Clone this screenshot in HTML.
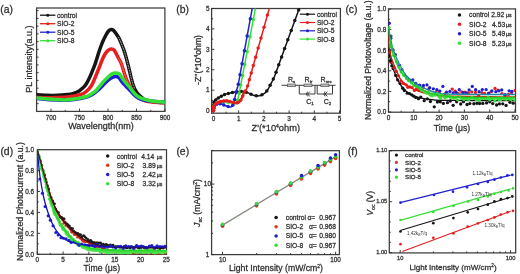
<!DOCTYPE html><html><head><meta charset="utf-8"><style>html,body{margin:0;padding:0;background:#fff;width:520px;height:274px;overflow:hidden}svg{display:block;filter:blur(0.5px)}text{font-family:"Liberation Sans", sans-serif;stroke:#333;stroke-width:0.26px}</style></head><body>
<svg xmlns="http://www.w3.org/2000/svg" width="520" height="274" viewBox="0 0 520 274">
<rect width="520" height="274" fill="#fff"/>
<defs>
<clipPath id="ca"><rect x="36.6" y="8" width="128.3" height="103.4"/></clipPath>
<clipPath id="cb"><rect x="211.6" y="8.5" width="128.8" height="104.7"/></clipPath>
<clipPath id="cc"><rect x="388.5" y="8.9" width="127" height="103.3"/></clipPath>
<clipPath id="cd"><rect x="37.3" y="149.7" width="129.2" height="104.6"/></clipPath>
<clipPath id="ce"><rect x="211.6" y="150.7" width="127.8" height="103.9"/></clipPath>
<clipPath id="cf"><rect x="389.3" y="150.6" width="126.4" height="102.3"/></clipPath>
</defs>
<text x="0.3" y="13" font-size="10.4" text-anchor="start" fill="#2a2a2a" >(a)</text>
<rect x="36.6" y="8" width="128.3" height="103.4" fill="none" stroke="#3c3c3c" stroke-width="1.25"/>
<line x1="51" y1="111.4" x2="51" y2="108.6" stroke="#2a2a2a" stroke-width="0.9"/>
<line x1="79.5" y1="111.4" x2="79.5" y2="108.6" stroke="#2a2a2a" stroke-width="0.9"/>
<line x1="108" y1="111.4" x2="108" y2="108.6" stroke="#2a2a2a" stroke-width="0.9"/>
<line x1="136.5" y1="111.4" x2="136.5" y2="108.6" stroke="#2a2a2a" stroke-width="0.9"/>
<line x1="165" y1="111.4" x2="165" y2="108.6" stroke="#2a2a2a" stroke-width="0.9"/>
<line x1="65.25" y1="111.4" x2="65.25" y2="109.9" stroke="#2a2a2a" stroke-width="0.9"/>
<line x1="93.75" y1="111.4" x2="93.75" y2="109.9" stroke="#2a2a2a" stroke-width="0.9"/>
<line x1="122.25" y1="111.4" x2="122.25" y2="109.9" stroke="#2a2a2a" stroke-width="0.9"/>
<line x1="150.75" y1="111.4" x2="150.75" y2="109.9" stroke="#2a2a2a" stroke-width="0.9"/>
<line x1="36.6" y1="103.65" x2="38.6" y2="103.65" stroke="#2a2a2a" stroke-width="0.9"/>
<line x1="36.6" y1="95.9" x2="38.6" y2="95.9" stroke="#2a2a2a" stroke-width="0.9"/>
<line x1="36.6" y1="88.15" x2="38.6" y2="88.15" stroke="#2a2a2a" stroke-width="0.9"/>
<line x1="36.6" y1="80.4" x2="38.6" y2="80.4" stroke="#2a2a2a" stroke-width="0.9"/>
<line x1="36.6" y1="72.65" x2="38.6" y2="72.65" stroke="#2a2a2a" stroke-width="0.9"/>
<line x1="36.6" y1="64.9" x2="38.6" y2="64.9" stroke="#2a2a2a" stroke-width="0.9"/>
<line x1="36.6" y1="57.15" x2="38.6" y2="57.15" stroke="#2a2a2a" stroke-width="0.9"/>
<line x1="36.6" y1="49.4" x2="38.6" y2="49.4" stroke="#2a2a2a" stroke-width="0.9"/>
<line x1="36.6" y1="41.65" x2="38.6" y2="41.65" stroke="#2a2a2a" stroke-width="0.9"/>
<line x1="36.6" y1="33.9" x2="38.6" y2="33.9" stroke="#2a2a2a" stroke-width="0.9"/>
<line x1="36.6" y1="26.15" x2="38.6" y2="26.15" stroke="#2a2a2a" stroke-width="0.9"/>
<line x1="36.6" y1="18.4" x2="38.6" y2="18.4" stroke="#2a2a2a" stroke-width="0.9"/>
<line x1="36.6" y1="10.65" x2="38.6" y2="10.65" stroke="#2a2a2a" stroke-width="0.9"/>
<text x="51" y="119.6" font-size="6.4" text-anchor="middle" fill="#2a2a2a" >700</text>
<text x="79.5" y="119.6" font-size="6.4" text-anchor="middle" fill="#2a2a2a" >750</text>
<text x="108" y="119.6" font-size="6.4" text-anchor="middle" fill="#2a2a2a" >800</text>
<text x="136.5" y="119.6" font-size="6.4" text-anchor="middle" fill="#2a2a2a" >850</text>
<text x="165" y="119.6" font-size="6.4" text-anchor="middle" fill="#2a2a2a" >900</text>
<text x="101" y="129.2" font-size="9" text-anchor="middle" fill="#2a2a2a" >Wavelength(nm)</text>
<text x="0" y="0" font-size="9" text-anchor="middle" fill="#222" transform="translate(31.8,59.2) rotate(-90)">PL intensity(a.u.)</text>
<g clip-path="url(#ca)">
<path d="M36,94.8C37.5,94.87 42.17,95.1 45,95.2C47.83,95.3 50.17,95.42 53,95.4C55.83,95.38 59.5,95.25 62,95.1C64.5,94.95 66.33,94.7 68,94.5C69.67,94.3 70.83,94.15 72,93.9C73.17,93.65 73.88,93.43 75,93C76.12,92.57 77.62,91.97 78.7,91.3C79.78,90.63 80.55,89.83 81.5,89C82.45,88.17 83.52,87.3 84.4,86.3C85.28,85.3 86.03,84.25 86.8,83C87.57,81.75 88.22,80.45 89,78.8C89.78,77.15 90.53,75.42 91.5,73.1C92.47,70.78 93.98,67.08 94.8,64.9C95.62,62.72 95.72,62.15 96.4,60C97.08,57.85 98.13,54.33 98.9,52C99.67,49.67 100.32,47.83 101,46C101.68,44.17 102.17,42.83 103,41C103.83,39.17 105.08,36.67 106,35C106.92,33.33 107.67,31.92 108.5,31C109.33,30.08 110.17,29.62 111,29.5C111.83,29.38 112.67,29.63 113.5,30.3C114.33,30.97 115.18,32.35 116,33.5C116.82,34.65 117.65,35.87 118.4,37.2C119.15,38.53 119.82,39.95 120.5,41.5C121.18,43.05 121.9,44.98 122.5,46.5C123.1,48.02 123.52,48.85 124.1,50.6C124.68,52.35 125.4,54.85 126,57C126.6,59.15 127.15,61.33 127.7,63.5C128.25,65.67 128.78,67.87 129.3,70C129.82,72.13 130.27,74.13 130.8,76.3C131.33,78.47 131.9,81 132.5,83C133.1,85 133.73,86.8 134.4,88.3C135.07,89.8 135.73,90.88 136.5,92C137.27,93.12 138.08,94.07 139,95C139.92,95.93 140.98,96.82 142,97.6C143.02,98.38 143.43,99.05 145.1,99.7C146.77,100.35 149.85,101.07 152,101.5C154.15,101.93 155.83,102.12 158,102.3C160.17,102.48 163.83,102.55 165,102.6" fill="none" stroke="#151515" stroke-width="3.5" stroke-linejoin="round" stroke-linecap="round" />
<path d="M118.4,37.2C118.75,37.92 119.82,39.95 120.5,41.5C121.18,43.05 121.9,44.98 122.5,46.5C123.1,48.02 123.52,48.85 124.1,50.6C124.68,52.35 125.4,54.85 126,57C126.6,59.15 127.15,61.33 127.7,63.5C128.25,65.67 128.78,67.87 129.3,70C129.82,72.13 130.27,74.13 130.8,76.3C131.33,78.47 131.9,81 132.5,83C133.1,85 134.08,87.42 134.4,88.3" fill="none" stroke="#ffffff" stroke-width="0.9" stroke-linejoin="round" stroke-linecap="round" stroke-dasharray="0.9 1.6" opacity="0.75"/>
<path d="M36,97.3C38.33,97.37 45.17,97.7 50,97.7C54.83,97.7 61.57,97.48 65,97.3C68.43,97.12 68.77,96.88 70.6,96.6C72.43,96.32 74.08,96 76,95.6C77.92,95.2 80.43,94.87 82.1,94.2C83.77,93.53 84.85,92.5 86,91.6C87.15,90.7 88.08,89.82 89,88.8C89.92,87.78 90.75,86.72 91.5,85.5C92.25,84.28 92.42,84 93.5,81.5C94.58,79 96.57,74.08 98,70.5C99.43,66.92 101.02,62.58 102.1,60C103.18,57.42 103.68,56.42 104.5,55C105.32,53.58 106.17,52.42 107,51.5C107.83,50.58 108.75,49.92 109.5,49.5C110.25,49.08 110.75,48.92 111.5,49C112.25,49.08 113.25,49.28 114,50C114.75,50.72 115.25,51.92 116,53.3C116.75,54.68 117.78,56.93 118.5,58.3C119.22,59.67 119.75,60.38 120.3,61.5C120.85,62.62 121.23,63.38 121.8,65C122.37,66.62 122.95,68.9 123.7,71.2C124.45,73.5 125.55,76.83 126.3,78.8C127.05,80.77 127.58,81.72 128.2,83C128.82,84.28 129.2,85.12 130,86.5C130.8,87.88 131.92,89.78 133,91.3C134.08,92.82 135.33,94.38 136.5,95.6C137.67,96.82 138.57,97.73 140,98.6C141.43,99.47 143.1,100.23 145.1,100.8C147.1,101.37 148.68,101.67 152,102C155.32,102.33 162.83,102.67 165,102.8" fill="none" stroke="#e51f1f" stroke-width="3.5" stroke-linejoin="round" stroke-linecap="round" />
<path d="M118.5,58.3C118.8,58.83 119.75,60.38 120.3,61.5C120.85,62.62 121.23,63.38 121.8,65C122.37,66.62 122.95,68.9 123.7,71.2C124.45,73.5 125.55,76.83 126.3,78.8C127.05,80.77 127.88,82.3 128.2,83" fill="none" stroke="#ffd0d0" stroke-width="0.8" stroke-linejoin="round" stroke-linecap="round" stroke-dasharray="0.9 1.6" opacity="0.6"/>
<path d="M36,98.2C37.5,98.38 41.83,99 45,99.3C48.17,99.6 51.67,99.83 55,100C58.33,100.17 61.5,100.42 65,100.3C68.5,100.18 73.17,99.65 76,99.3C78.83,98.95 80.02,98.65 82,98.2C83.98,97.75 86.05,97.3 87.9,96.6C89.75,95.9 91.42,95.07 93.1,94C94.78,92.93 96.35,91.65 98,90.2C99.65,88.75 101.35,86.92 103,85.3C104.65,83.68 106.27,81.85 107.9,80.5C109.53,79.15 111.45,77.88 112.8,77.2C114.15,76.52 114.97,76.3 116,76.4C117.03,76.5 117.97,76.83 119,77.8C120.03,78.77 121.08,80.83 122.2,82.2C123.32,83.57 124.53,84.78 125.7,86C126.87,87.22 128.05,88.28 129.2,89.5C130.35,90.72 131.43,92.13 132.6,93.3C133.77,94.47 134.97,95.58 136.2,96.5C137.43,97.42 138.6,98.18 140,98.8C141.4,99.42 142.6,99.78 144.6,100.2C146.6,100.62 148.6,101 152,101.3C155.4,101.6 162.83,101.88 165,102" fill="none" stroke="#2020d0" stroke-width="3.5" stroke-linejoin="round" stroke-linecap="round" />
<path d="M36,97.7C37.5,97.88 42.12,98.52 45,98.8C47.88,99.08 50,99.2 53.3,99.4C56.6,99.6 60.95,100.1 64.8,100C68.65,99.9 73.53,99.2 76.4,98.8C79.27,98.4 80.08,98.07 82,97.6C83.92,97.13 86.05,96.8 87.9,96C89.75,95.2 91.75,93.7 93.1,92.8C94.45,91.9 95.18,91.37 96,90.6C96.82,89.83 96.83,89.62 98,88.2C99.17,86.78 101.35,83.93 103,82.1C104.65,80.27 106.4,78.57 107.9,77.2C109.4,75.83 110.78,74.58 112,73.9C113.22,73.22 113.98,73.1 115.2,73.1C116.42,73.1 118.13,73.08 119.3,73.9C120.47,74.72 121.17,76.57 122.2,78C123.23,79.43 124.33,81.05 125.5,82.5C126.67,83.95 128.03,85.25 129.2,86.7C130.37,88.15 131.33,89.8 132.5,91.2C133.67,92.6 134.95,94.03 136.2,95.1C137.45,96.17 138.6,96.9 140,97.6C141.4,98.3 142.93,98.78 144.6,99.3C146.27,99.82 148.1,100.32 150,100.7C151.9,101.08 153.5,101.35 156,101.6C158.5,101.85 163.5,102.1 165,102.2" fill="none" stroke="#35e035" stroke-width="3.5" stroke-linejoin="round" stroke-linecap="round" />
</g>
<line x1="40" y1="15.2" x2="55.4" y2="15.2" stroke="#151515" stroke-width="1.3"/>
<circle cx="47.8" cy="15.2" r="1.5" fill="#151515"/>
<text x="57" y="17.6" font-size="6.7" text-anchor="start" fill="#2a2a2a" >control</text>
<line x1="40" y1="23.7" x2="55.4" y2="23.7" stroke="#e51f1f" stroke-width="1.3"/>
<circle cx="47.8" cy="23.7" r="1.5" fill="#e51f1f"/>
<text x="57" y="26.1" font-size="6.7" text-anchor="start" fill="#2a2a2a" >SIO-2</text>
<line x1="40" y1="32.2" x2="55.4" y2="32.2" stroke="#2020d0" stroke-width="1.3"/>
<circle cx="47.8" cy="32.2" r="1.5" fill="#2020d0"/>
<text x="57" y="34.6" font-size="6.7" text-anchor="start" fill="#2a2a2a" >SIO-5</text>
<line x1="40" y1="40.7" x2="55.4" y2="40.7" stroke="#35e035" stroke-width="1.3"/>
<circle cx="47.8" cy="40.7" r="1.5" fill="#35e035"/>
<text x="57" y="43.1" font-size="6.7" text-anchor="start" fill="#2a2a2a" >SIO-8</text>
<text x="176.2" y="13" font-size="10.4" text-anchor="start" fill="#2a2a2a" >(b)</text>
<rect x="211.6" y="8.5" width="128.8" height="104.7" fill="none" stroke="#3c3c3c" stroke-width="1.25"/>
<line x1="213.5" y1="113.2" x2="213.5" y2="110.4" stroke="#2a2a2a" stroke-width="0.9"/>
<line x1="238.7" y1="113.2" x2="238.7" y2="110.4" stroke="#2a2a2a" stroke-width="0.9"/>
<line x1="263.9" y1="113.2" x2="263.9" y2="110.4" stroke="#2a2a2a" stroke-width="0.9"/>
<line x1="289.1" y1="113.2" x2="289.1" y2="110.4" stroke="#2a2a2a" stroke-width="0.9"/>
<line x1="314.3" y1="113.2" x2="314.3" y2="110.4" stroke="#2a2a2a" stroke-width="0.9"/>
<line x1="339.5" y1="113.2" x2="339.5" y2="110.4" stroke="#2a2a2a" stroke-width="0.9"/>
<line x1="226.1" y1="113.2" x2="226.1" y2="111.7" stroke="#2a2a2a" stroke-width="0.9"/>
<line x1="251.3" y1="113.2" x2="251.3" y2="111.7" stroke="#2a2a2a" stroke-width="0.9"/>
<line x1="276.5" y1="113.2" x2="276.5" y2="111.7" stroke="#2a2a2a" stroke-width="0.9"/>
<line x1="301.7" y1="113.2" x2="301.7" y2="111.7" stroke="#2a2a2a" stroke-width="0.9"/>
<line x1="326.9" y1="113.2" x2="326.9" y2="111.7" stroke="#2a2a2a" stroke-width="0.9"/>
<line x1="211.6" y1="90.18" x2="214.4" y2="90.18" stroke="#2a2a2a" stroke-width="0.9"/>
<line x1="211.6" y1="69.76" x2="214.4" y2="69.76" stroke="#2a2a2a" stroke-width="0.9"/>
<line x1="211.6" y1="49.34" x2="214.4" y2="49.34" stroke="#2a2a2a" stroke-width="0.9"/>
<line x1="211.6" y1="28.92" x2="214.4" y2="28.92" stroke="#2a2a2a" stroke-width="0.9"/>
<line x1="211.6" y1="8.5" x2="214.4" y2="8.5" stroke="#2a2a2a" stroke-width="0.9"/>
<line x1="211.6" y1="110.6" x2="214.4" y2="110.6" stroke="#2a2a2a" stroke-width="0.9"/>
<line x1="211.6" y1="100.39" x2="213.1" y2="100.39" stroke="#2a2a2a" stroke-width="0.9"/>
<line x1="211.6" y1="79.97" x2="213.1" y2="79.97" stroke="#2a2a2a" stroke-width="0.9"/>
<line x1="211.6" y1="59.55" x2="213.1" y2="59.55" stroke="#2a2a2a" stroke-width="0.9"/>
<line x1="211.6" y1="39.13" x2="213.1" y2="39.13" stroke="#2a2a2a" stroke-width="0.9"/>
<line x1="211.6" y1="18.71" x2="213.1" y2="18.71" stroke="#2a2a2a" stroke-width="0.9"/>
<text x="213.5" y="120.6" font-size="6.4" text-anchor="middle" fill="#2a2a2a" >0</text>
<text x="207.8" y="112.9" font-size="6.4" text-anchor="middle" fill="#2a2a2a" >0</text>
<text x="238.7" y="120.6" font-size="6.4" text-anchor="middle" fill="#2a2a2a" >1</text>
<text x="207.8" y="92.48" font-size="6.4" text-anchor="middle" fill="#2a2a2a" >1</text>
<text x="263.9" y="120.6" font-size="6.4" text-anchor="middle" fill="#2a2a2a" >2</text>
<text x="207.8" y="72.06" font-size="6.4" text-anchor="middle" fill="#2a2a2a" >2</text>
<text x="289.1" y="120.6" font-size="6.4" text-anchor="middle" fill="#2a2a2a" >3</text>
<text x="207.8" y="51.64" font-size="6.4" text-anchor="middle" fill="#2a2a2a" >3</text>
<text x="314.3" y="120.6" font-size="6.4" text-anchor="middle" fill="#2a2a2a" >4</text>
<text x="207.8" y="31.22" font-size="6.4" text-anchor="middle" fill="#2a2a2a" >4</text>
<text x="339.5" y="120.6" font-size="6.4" text-anchor="middle" fill="#2a2a2a" >5</text>
<text x="207.8" y="10.8" font-size="6.4" text-anchor="middle" fill="#2a2a2a" >5</text>
<text x="275.8" y="131.2" font-size="9.3" text-anchor="middle" fill="#2a2a2a" >Z'(*10<tspan font-size="5" dy="-3">4</tspan><tspan dy="3">ohm)</tspan></text>
<text x="0" y="0" font-size="8.7" text-anchor="middle" fill="#222" transform="translate(200.5,60) rotate(-90)">-Z''(*10<tspan font-size="5" dy="-3">4</tspan><tspan dy="3">ohm)</tspan></text>
<g clip-path="url(#cb)">
<path d="M213.3,111.5C213.33,110.58 213.38,107.68 213.5,106C213.62,104.32 213.5,102.53 214,101.4C214.5,100.27 215.63,99.88 216.5,99.2C217.37,98.52 218.33,97.83 219.2,97.3C220.07,96.77 220.85,96.43 221.7,96C222.55,95.57 223.45,95.05 224.3,94.7C225.15,94.35 225.95,94.15 226.8,93.9C227.65,93.65 228.28,93.48 229.4,93.2C230.52,92.92 232.32,92.43 233.5,92.2C234.68,91.97 235.48,91.9 236.5,91.8C237.52,91.7 238.4,91.63 239.6,91.6C240.8,91.57 242.33,91.42 243.7,91.6C245.07,91.78 246.58,92.27 247.8,92.7C249.02,93.13 250.05,93.77 251,94.2C251.95,94.63 252.58,95.02 253.5,95.3C254.42,95.58 255.58,95.82 256.5,95.9C257.42,95.98 258.22,95.92 259,95.8C259.78,95.68 260.37,95.55 261.2,95.2C262.03,94.85 263.2,94.23 264,93.7C264.8,93.17 265.25,92.87 266,92C266.75,91.13 267.72,89.82 268.5,88.5C269.28,87.18 269.77,85.93 270.7,84.1C271.63,82.27 273.03,79.98 274.1,77.5C275.17,75.02 276,72.28 277.12,69.2C278.25,66.12 279.45,62.82 280.84,59C282.23,55.18 284.12,49.97 285.46,46.3C286.79,42.63 287.78,39.93 288.84,37C289.91,34.07 290.68,31.95 291.87,28.7C293.05,25.45 294.69,20.95 295.94,17.5C297.2,14.05 298.52,10.42 299.4,8C300.28,5.58 300.92,3.83 301.22,3" fill="none" stroke="#151515" stroke-width="1.5" stroke-linejoin="round" stroke-linecap="round" />
<circle cx="213.34" cy="110.5" r="1.75" fill="#151515"/>
<circle cx="213.43" cy="107.9" r="1.75" fill="#151515"/>
<circle cx="213.59" cy="105.15" r="1.75" fill="#151515"/>
<circle cx="213.91" cy="102.25" r="1.75" fill="#151515"/>
<circle cx="215.68" cy="99.92" r="1.75" fill="#151515"/>
<circle cx="218.3" cy="97.94" r="1.75" fill="#151515"/>
<circle cx="221.31" cy="96.21" r="1.75" fill="#151515"/>
<circle cx="224.62" cy="94.6" r="1.75" fill="#151515"/>
<circle cx="228.37" cy="93.48" r="1.75" fill="#151515"/>
<circle cx="232.39" cy="92.47" r="1.75" fill="#151515"/>
<circle cx="236.72" cy="91.79" r="1.75" fill="#151515"/>
<circle cx="241.37" cy="91.6" r="1.75" fill="#151515"/>
<circle cx="246.22" cy="92.27" r="1.75" fill="#151515"/>
<circle cx="251.05" cy="94.22" r="1.75" fill="#151515"/>
<circle cx="256.32" cy="95.86" r="1.75" fill="#151515"/>
<circle cx="262" cy="94.77" r="1.75" fill="#151515"/>
<circle cx="266.78" cy="90.91" r="1.75" fill="#151515"/>
<circle cx="270.13" cy="85.24" r="1.75" fill="#151515"/>
<circle cx="273.32" cy="79.01" r="1.75" fill="#151515"/>
<circle cx="276.06" cy="72.13" r="1.75" fill="#151515"/>
<circle cx="278.75" cy="64.73" r="1.75" fill="#151515"/>
<circle cx="281.6" cy="56.9" r="1.75" fill="#151515"/>
<circle cx="284.62" cy="48.59" r="1.75" fill="#151515"/>
<circle cx="287.83" cy="39.79" r="1.75" fill="#151515"/>
<circle cx="291.23" cy="30.46" r="1.75" fill="#151515"/>
<circle cx="294.83" cy="20.56" r="1.75" fill="#151515"/>
<circle cx="298.64" cy="10.08" r="1.75" fill="#151515"/>
<path d="M213.3,111.5C213.42,110.55 213.63,107 214,105.8C214.37,104.6 214.83,104.73 215.5,104.3C216.17,103.87 217.05,103.53 218,103.2C218.95,102.87 219.82,102.5 221.2,102.3C222.58,102.1 224.77,101.92 226.3,102C227.83,102.08 229.2,102.53 230.4,102.8C231.6,103.07 232.65,103.47 233.5,103.6C234.35,103.73 234.95,103.9 235.5,103.6C236.05,103.3 236.38,102.65 236.8,101.8C237.22,100.95 237.6,99.97 238,98.5C238.4,97.03 238.75,95.25 239.2,93C239.65,90.75 239.98,88.83 240.72,85C241.45,81.17 242.48,75.83 243.6,70C244.72,64.17 246.16,56.67 247.44,50C248.72,43.33 249.93,37 251.28,30C252.62,23 254.64,12.5 255.5,8C256.36,3.5 256.3,3.83 256.46,3" fill="none" stroke="#35e035" stroke-width="1.5" stroke-linejoin="round" stroke-linecap="round" />
<circle cx="213.42" cy="110.51" r="1.75" fill="#35e035"/>
<circle cx="213.69" cy="108.32" r="1.75" fill="#35e035"/>
<circle cx="214.01" cy="105.79" r="1.75" fill="#35e035"/>
<circle cx="216.28" cy="103.96" r="1.75" fill="#35e035"/>
<circle cx="219.49" cy="102.78" r="1.75" fill="#35e035"/>
<circle cx="223.41" cy="102.17" r="1.75" fill="#35e035"/>
<circle cx="227.99" cy="102.33" r="1.75" fill="#35e035"/>
<circle cx="233.21" cy="103.53" r="1.75" fill="#35e035"/>
<circle cx="237.38" cy="100.2" r="1.75" fill="#35e035"/>
<circle cx="239.15" cy="93.22" r="1.75" fill="#35e035"/>
<circle cx="240.72" cy="85" r="1.75" fill="#35e035"/>
<circle cx="242.55" cy="75.47" r="1.75" fill="#35e035"/>
<circle cx="244.67" cy="64.42" r="1.75" fill="#35e035"/>
<circle cx="247.13" cy="51.59" r="1.75" fill="#35e035"/>
<circle cx="249.99" cy="36.71" r="1.75" fill="#35e035"/>
<circle cx="253.3" cy="19.46" r="1.75" fill="#35e035"/>
<path d="M213.3,111.5C213.42,110.67 213.63,107.67 214,106.5C214.37,105.33 214.83,104.95 215.5,104.5C216.17,104.05 217.05,103.9 218,103.8C218.95,103.7 220.2,103.7 221.2,103.9C222.2,104.1 223.15,104.65 224,105C224.85,105.35 225.55,105.72 226.3,106C227.05,106.28 227.82,106.53 228.5,106.7C229.18,106.87 229.73,107.12 230.4,107C231.07,106.88 231.9,106.77 232.5,106C233.1,105.23 233.58,103.85 234,102.4C234.42,100.95 234.57,99.35 235,97.3C235.43,95.25 236.08,92.15 236.6,90.1C237.12,88.05 237.42,88.35 238.13,85C238.85,81.65 239.82,75.83 240.89,70C241.97,64.17 243.35,56.67 244.57,50C245.8,43.33 246.96,37 248.25,30C249.54,23 251.47,12.5 252.3,8C253.13,3.5 253.07,3.83 253.22,3" fill="none" stroke="#2020d0" stroke-width="1.5" stroke-linejoin="round" stroke-linecap="round" />
<circle cx="213.44" cy="110.51" r="1.75" fill="#2020d0"/>
<circle cx="213.74" cy="108.33" r="1.75" fill="#2020d0"/>
<circle cx="214.42" cy="105.94" r="1.75" fill="#2020d0"/>
<circle cx="216.62" cy="104.19" r="1.75" fill="#2020d0"/>
<circle cx="220" cy="103.86" r="1.75" fill="#2020d0"/>
<circle cx="223.79" cy="104.92" r="1.75" fill="#2020d0"/>
<circle cx="228.1" cy="106.57" r="1.75" fill="#2020d0"/>
<circle cx="232.77" cy="105.36" r="1.75" fill="#2020d0"/>
<circle cx="234.58" cy="99.45" r="1.75" fill="#2020d0"/>
<circle cx="236.09" cy="92.4" r="1.75" fill="#2020d0"/>
<circle cx="238.26" cy="84.32" r="1.75" fill="#2020d0"/>
<circle cx="240.01" cy="74.78" r="1.75" fill="#2020d0"/>
<circle cx="242.05" cy="63.71" r="1.75" fill="#2020d0"/>
<circle cx="244.41" cy="50.86" r="1.75" fill="#2020d0"/>
<circle cx="247.15" cy="35.96" r="1.75" fill="#2020d0"/>
<circle cx="250.33" cy="18.68" r="1.75" fill="#2020d0"/>
<path d="M213.3,111.5C213.35,110.92 213.48,109.02 213.6,108C213.72,106.98 213.72,106.07 214,105.4C214.28,104.73 214.78,104.42 215.3,104C215.82,103.58 216.48,103.23 217.1,102.9C217.72,102.57 218.32,102.25 219,102C219.68,101.75 220.45,101.57 221.2,101.4C221.95,101.23 222.65,101.1 223.5,101C224.35,100.9 225.38,100.77 226.3,100.8C227.22,100.83 228.15,101.02 229,101.2C229.85,101.38 230.65,101.68 231.4,101.9C232.15,102.12 232.82,102.33 233.5,102.5C234.18,102.67 234.88,102.83 235.5,102.9C236.12,102.97 236.68,102.98 237.2,102.9C237.72,102.82 238.08,102.75 238.6,102.4C239.12,102.05 239.78,101.48 240.3,100.8C240.82,100.12 241.28,99.13 241.7,98.3C242.12,97.47 242.47,96.65 242.8,95.8C243.13,94.95 243,94.5 243.7,93.2C244.4,91.9 246.08,90.2 247,88C247.92,85.8 248.17,83.83 249.24,80C250.31,76.17 252.04,70 253.44,65C254.84,60 256.24,55 257.64,50C259.04,45 260.44,40 261.84,35C263.24,30 264.78,24.5 266.04,20C267.3,15.5 268.61,10.83 269.4,8C270.19,5.17 270.57,3.83 270.8,3" fill="none" stroke="#e51f1f" stroke-width="1.5" stroke-linejoin="round" stroke-linecap="round" />
<path d="M213.3,111.5C213.35,110.92 213.48,109.02 213.6,108C213.72,106.98 213.72,106.07 214,105.4C214.28,104.73 214.78,104.42 215.3,104C215.82,103.58 216.48,103.23 217.1,102.9C217.72,102.57 218.32,102.25 219,102C219.68,101.75 220.45,101.57 221.2,101.4C221.95,101.23 222.65,101.1 223.5,101C224.35,100.9 225.38,100.77 226.3,100.8C227.22,100.83 228.15,101.02 229,101.2C229.85,101.38 230.65,101.68 231.4,101.9C232.15,102.12 232.82,102.33 233.5,102.5C234.18,102.67 234.88,102.83 235.5,102.9C236.12,102.97 236.68,102.98 237.2,102.9C237.72,102.82 238.08,102.75 238.6,102.4C239.12,102.05 239.78,101.48 240.3,100.8C240.82,100.12 241.28,99.13 241.7,98.3C242.12,97.47 242.47,96.65 242.8,95.8C243.13,94.95 243.55,93.63 243.7,93.2" fill="none" stroke="#e51f1f" stroke-width="2.5" stroke-linejoin="round" stroke-linecap="round" />
<circle cx="213.39" cy="110.5" r="1.75" fill="#e51f1f"/>
<circle cx="213.5" cy="109.11" r="1.75" fill="#e51f1f"/>
<circle cx="213.66" cy="107.58" r="1.75" fill="#e51f1f"/>
<circle cx="213.92" cy="105.9" r="1.75" fill="#e51f1f"/>
<circle cx="214.92" cy="104.41" r="1.75" fill="#e51f1f"/>
<circle cx="216.57" cy="103.22" r="1.75" fill="#e51f1f"/>
<circle cx="218.58" cy="102.2" r="1.75" fill="#e51f1f"/>
<circle cx="220.95" cy="101.47" r="1.75" fill="#e51f1f"/>
<circle cx="223.63" cy="100.99" r="1.75" fill="#e51f1f"/>
<circle cx="226.62" cy="100.85" r="1.75" fill="#e51f1f"/>
<circle cx="229.86" cy="101.45" r="1.75" fill="#e51f1f"/>
<circle cx="233.35" cy="102.46" r="1.75" fill="#e51f1f"/>
<circle cx="237.29" cy="102.87" r="1.75" fill="#e51f1f"/>
<circle cx="240.63" cy="100.22" r="1.75" fill="#e51f1f"/>
<circle cx="242.76" cy="95.89" r="1.75" fill="#e51f1f"/>
<circle cx="245.02" cy="91.11" r="1.75" fill="#e51f1f"/>
<circle cx="247.58" cy="85.92" r="1.75" fill="#e51f1f"/>
<circle cx="249.32" cy="79.72" r="1.75" fill="#e51f1f"/>
<circle cx="251.23" cy="72.91" r="1.75" fill="#e51f1f"/>
<circle cx="253.32" cy="65.41" r="1.75" fill="#e51f1f"/>
<circle cx="255.63" cy="57.17" r="1.75" fill="#e51f1f"/>
<circle cx="258.17" cy="48.1" r="1.75" fill="#e51f1f"/>
<circle cx="260.97" cy="38.12" r="1.75" fill="#e51f1f"/>
<circle cx="264.04" cy="27.15" r="1.75" fill="#e51f1f"/>
<circle cx="267.42" cy="15.08" r="1.75" fill="#e51f1f"/>
</g>
<line x1="299.8" y1="14.2" x2="315" y2="14.2" stroke="#151515" stroke-width="1.2"/>
<circle cx="307.5" cy="14.2" r="1.5" fill="#151515"/>
<text x="316.9" y="16.6" font-size="6.7" text-anchor="start" fill="#2a2a2a" >control</text>
<line x1="299.8" y1="22.5" x2="315" y2="22.5" stroke="#e51f1f" stroke-width="1.2"/>
<circle cx="307.5" cy="22.5" r="1.5" fill="#e51f1f"/>
<text x="316.9" y="24.9" font-size="6.7" text-anchor="start" fill="#2a2a2a" >SIO-2</text>
<line x1="299.8" y1="30.8" x2="315" y2="30.8" stroke="#2020d0" stroke-width="1.2"/>
<circle cx="307.5" cy="30.8" r="1.5" fill="#2020d0"/>
<text x="316.9" y="33.2" font-size="6.7" text-anchor="start" fill="#2a2a2a" >SIO-5</text>
<line x1="299.8" y1="39.1" x2="315" y2="39.1" stroke="#35e035" stroke-width="1.2"/>
<circle cx="307.5" cy="39.1" r="1.5" fill="#35e035"/>
<text x="316.9" y="41.5" font-size="6.7" text-anchor="start" fill="#2a2a2a" >SIO-8</text>
<g stroke="#333" stroke-width="0.95" fill="none">
<line x1="281.5" y1="85.3" x2="335.5" y2="85.3"/>
<polyline points="299.3,85.3 299.3,94 315,94 315,85.3"/>
<polyline points="317.2,85.3 317.2,94 332.5,94 332.5,85.3"/>
<path d="M307.6,91.6 Q305.2,94 307.6,96.4 M309.8,91.6 L307.6,94 L309.8,96.4"/>
<path d="M325.1,91.6 Q322.7,94 325.1,96.4 M327.3,91.6 L325.1,94 L327.3,96.4"/>
</g>
<rect x="287.3" y="84" width="8" height="2.7" fill="#bbb" stroke="#444" stroke-width="0.6"/>
<rect x="304" y="84" width="8" height="2.7" fill="#bbb" stroke="#444" stroke-width="0.6"/>
<rect x="320.9" y="84" width="8" height="2.7" fill="#bbb" stroke="#444" stroke-width="0.6"/>
<text x="288" y="81.6" font-size="7" text-anchor="start" fill="#2a2a2a" >R<tspan font-size="4.4" dy="1.3">s</tspan></text>
<text x="304.6" y="81.6" font-size="7" text-anchor="start" fill="#2a2a2a" >R<tspan font-size="4.4" dy="1.3">tr</tspan></text>
<text x="320.6" y="81.6" font-size="7" text-anchor="start" fill="#2a2a2a" >R<tspan font-size="4.4" dy="1.3">rec</tspan></text>
<text x="306.2" y="103.9" font-size="7" text-anchor="start" fill="#2a2a2a" >C<tspan font-size="4.4" dy="1.3">1</tspan></text>
<text x="323.8" y="103.9" font-size="7" text-anchor="start" fill="#2a2a2a" >C<tspan font-size="4.4" dy="1.3">2</tspan></text>
<text x="345.4" y="13" font-size="10.4" text-anchor="start" fill="#2a2a2a" >(c)</text>
<rect x="388.5" y="8.9" width="127" height="103.3" fill="none" stroke="#3c3c3c" stroke-width="1.25"/>
<line x1="388.5" y1="112.2" x2="388.5" y2="109.4" stroke="#2a2a2a" stroke-width="0.9"/>
<line x1="413.8" y1="112.2" x2="413.8" y2="109.4" stroke="#2a2a2a" stroke-width="0.9"/>
<line x1="439.1" y1="112.2" x2="439.1" y2="109.4" stroke="#2a2a2a" stroke-width="0.9"/>
<line x1="464.4" y1="112.2" x2="464.4" y2="109.4" stroke="#2a2a2a" stroke-width="0.9"/>
<line x1="489.7" y1="112.2" x2="489.7" y2="109.4" stroke="#2a2a2a" stroke-width="0.9"/>
<line x1="515" y1="112.2" x2="515" y2="109.4" stroke="#2a2a2a" stroke-width="0.9"/>
<line x1="401.15" y1="112.2" x2="401.15" y2="110.7" stroke="#2a2a2a" stroke-width="0.9"/>
<line x1="426.45" y1="112.2" x2="426.45" y2="110.7" stroke="#2a2a2a" stroke-width="0.9"/>
<line x1="451.75" y1="112.2" x2="451.75" y2="110.7" stroke="#2a2a2a" stroke-width="0.9"/>
<line x1="477.05" y1="112.2" x2="477.05" y2="110.7" stroke="#2a2a2a" stroke-width="0.9"/>
<line x1="502.35" y1="112.2" x2="502.35" y2="110.7" stroke="#2a2a2a" stroke-width="0.9"/>
<line x1="388.5" y1="112" x2="391.3" y2="112" stroke="#2a2a2a" stroke-width="0.9"/>
<line x1="388.5" y1="91.4" x2="391.3" y2="91.4" stroke="#2a2a2a" stroke-width="0.9"/>
<line x1="388.5" y1="70.8" x2="391.3" y2="70.8" stroke="#2a2a2a" stroke-width="0.9"/>
<line x1="388.5" y1="50.2" x2="391.3" y2="50.2" stroke="#2a2a2a" stroke-width="0.9"/>
<line x1="388.5" y1="29.6" x2="391.3" y2="29.6" stroke="#2a2a2a" stroke-width="0.9"/>
<line x1="388.5" y1="9" x2="391.3" y2="9" stroke="#2a2a2a" stroke-width="0.9"/>
<line x1="388.5" y1="101.7" x2="390" y2="101.7" stroke="#2a2a2a" stroke-width="0.9"/>
<line x1="388.5" y1="81.1" x2="390" y2="81.1" stroke="#2a2a2a" stroke-width="0.9"/>
<line x1="388.5" y1="60.5" x2="390" y2="60.5" stroke="#2a2a2a" stroke-width="0.9"/>
<line x1="388.5" y1="39.9" x2="390" y2="39.9" stroke="#2a2a2a" stroke-width="0.9"/>
<line x1="388.5" y1="19.3" x2="390" y2="19.3" stroke="#2a2a2a" stroke-width="0.9"/>
<text x="388.5" y="120.3" font-size="6.4" text-anchor="middle" fill="#2a2a2a" >0</text>
<text x="381.8" y="114.3" font-size="6.4" text-anchor="middle" fill="#2a2a2a" >0.0</text>
<text x="413.8" y="120.3" font-size="6.4" text-anchor="middle" fill="#2a2a2a" >10</text>
<text x="381.8" y="93.7" font-size="6.4" text-anchor="middle" fill="#2a2a2a" >0.2</text>
<text x="439.1" y="120.3" font-size="6.4" text-anchor="middle" fill="#2a2a2a" >20</text>
<text x="381.8" y="73.1" font-size="6.4" text-anchor="middle" fill="#2a2a2a" >0.4</text>
<text x="464.4" y="120.3" font-size="6.4" text-anchor="middle" fill="#2a2a2a" >30</text>
<text x="381.8" y="52.5" font-size="6.4" text-anchor="middle" fill="#2a2a2a" >0.6</text>
<text x="489.7" y="120.3" font-size="6.4" text-anchor="middle" fill="#2a2a2a" >40</text>
<text x="381.8" y="31.9" font-size="6.4" text-anchor="middle" fill="#2a2a2a" >0.8</text>
<text x="515" y="120.3" font-size="6.4" text-anchor="middle" fill="#2a2a2a" >50</text>
<text x="381.8" y="11.3" font-size="6.4" text-anchor="middle" fill="#2a2a2a" >1.0</text>
<text x="452" y="130.6" font-size="8.7" text-anchor="middle" fill="#2a2a2a" >Time (μs)</text>
<text x="0" y="0" font-size="8.7" text-anchor="middle" fill="#222" transform="translate(371.2,60.2) rotate(-90)">Normalized Photovoltage (a.u.)</text>
<g clip-path="url(#cc)">
<circle cx="389.3" cy="50.01" r="1.65" fill="#151515"/>
<circle cx="391.12" cy="62.21" r="1.65" fill="#151515"/>
<circle cx="393.12" cy="68.52" r="1.65" fill="#151515"/>
<circle cx="395.72" cy="75.43" r="1.65" fill="#151515"/>
<circle cx="397.58" cy="79.83" r="1.65" fill="#151515"/>
<circle cx="400.07" cy="83.6" r="1.65" fill="#151515"/>
<circle cx="402.73" cy="88.23" r="1.65" fill="#151515"/>
<circle cx="404.36" cy="90.49" r="1.65" fill="#151515"/>
<circle cx="407.25" cy="93.19" r="1.65" fill="#151515"/>
<circle cx="409.49" cy="93.54" r="1.65" fill="#151515"/>
<circle cx="411.68" cy="94.82" r="1.65" fill="#151515"/>
<circle cx="413.49" cy="96.09" r="1.65" fill="#151515"/>
<circle cx="415.73" cy="97.4" r="1.65" fill="#151515"/>
<circle cx="418.44" cy="98.63" r="1.65" fill="#151515"/>
<circle cx="420.78" cy="97.1" r="1.65" fill="#151515"/>
<circle cx="424.19" cy="100.69" r="1.65" fill="#151515"/>
<circle cx="427.29" cy="98.79" r="1.65" fill="#151515"/>
<circle cx="430.4" cy="101.52" r="1.65" fill="#151515"/>
<circle cx="434.25" cy="106.85" r="1.65" fill="#151515"/>
<circle cx="437.41" cy="102.01" r="1.65" fill="#151515"/>
<circle cx="440.28" cy="101.83" r="1.65" fill="#151515"/>
<circle cx="443.35" cy="103.43" r="1.65" fill="#151515"/>
<circle cx="447.42" cy="102.66" r="1.65" fill="#151515"/>
<circle cx="450.25" cy="101.01" r="1.65" fill="#151515"/>
<circle cx="453.15" cy="105.34" r="1.65" fill="#151515"/>
<circle cx="456.65" cy="101.79" r="1.65" fill="#151515"/>
<circle cx="460.71" cy="103.99" r="1.65" fill="#151515"/>
<circle cx="463.41" cy="101.68" r="1.65" fill="#151515"/>
<circle cx="467.08" cy="104.49" r="1.65" fill="#151515"/>
<circle cx="469.86" cy="103.54" r="1.65" fill="#151515"/>
<circle cx="473.85" cy="103.77" r="1.65" fill="#151515"/>
<circle cx="476.93" cy="103.34" r="1.65" fill="#151515"/>
<circle cx="479.56" cy="103.48" r="1.65" fill="#151515"/>
<circle cx="482.81" cy="103.42" r="1.65" fill="#151515"/>
<circle cx="486.6" cy="102.95" r="1.65" fill="#151515"/>
<circle cx="489.77" cy="101.79" r="1.65" fill="#151515"/>
<circle cx="492.75" cy="103.59" r="1.65" fill="#151515"/>
<circle cx="496.55" cy="104.98" r="1.65" fill="#151515"/>
<circle cx="499.41" cy="103.9" r="1.65" fill="#151515"/>
<circle cx="502.75" cy="103.79" r="1.65" fill="#151515"/>
<circle cx="506.08" cy="105.42" r="1.65" fill="#151515"/>
<circle cx="509.95" cy="102.28" r="1.65" fill="#151515"/>
<circle cx="513.2" cy="103.15" r="1.65" fill="#151515"/>
<path d="M388.5,48C388.67,49.17 389.08,52.75 389.5,55C389.92,57.25 390.42,59.33 391,61.5C391.58,63.67 392.25,65.75 393,68C393.75,70.25 394.67,72.92 395.5,75C396.33,77.08 397.03,78.67 398,80.5C398.97,82.33 400.2,84.45 401.3,86C402.4,87.55 403.23,88.5 404.6,89.8C405.97,91.1 407.6,92.67 409.5,93.8C411.4,94.93 413.82,95.85 416,96.6C418.18,97.35 419.93,97.8 422.6,98.3C425.27,98.8 428.27,99.27 432,99.6C435.73,99.93 431,100.13 445,100.3C459,100.47 504.17,100.55 516,100.6" fill="none" stroke="#111" stroke-width="1.3" stroke-linejoin="round" stroke-linecap="round" />
<circle cx="389.78" cy="52.1" r="1.65" fill="#e51f1f"/>
<circle cx="391.63" cy="61.92" r="1.65" fill="#e51f1f"/>
<circle cx="393.95" cy="67.42" r="1.65" fill="#e51f1f"/>
<circle cx="396.27" cy="71.48" r="1.65" fill="#e51f1f"/>
<circle cx="398.32" cy="75.84" r="1.65" fill="#e51f1f"/>
<circle cx="400.77" cy="81.1" r="1.65" fill="#e51f1f"/>
<circle cx="403.4" cy="83.42" r="1.65" fill="#e51f1f"/>
<circle cx="406.04" cy="84.82" r="1.65" fill="#e51f1f"/>
<circle cx="407.84" cy="87.23" r="1.65" fill="#e51f1f"/>
<circle cx="409.81" cy="86.89" r="1.65" fill="#e51f1f"/>
<circle cx="412.06" cy="87.62" r="1.65" fill="#e51f1f"/>
<circle cx="414.43" cy="90.42" r="1.65" fill="#e51f1f"/>
<circle cx="416.65" cy="88.59" r="1.65" fill="#e51f1f"/>
<circle cx="418.94" cy="89.78" r="1.65" fill="#e51f1f"/>
<circle cx="422.98" cy="87.27" r="1.65" fill="#e51f1f"/>
<circle cx="425.74" cy="92.09" r="1.65" fill="#e51f1f"/>
<circle cx="428.71" cy="88.96" r="1.65" fill="#e51f1f"/>
<circle cx="432.13" cy="95.48" r="1.65" fill="#e51f1f"/>
<circle cx="435.89" cy="92.35" r="1.65" fill="#e51f1f"/>
<circle cx="439.07" cy="91.46" r="1.65" fill="#e51f1f"/>
<circle cx="442.06" cy="95.58" r="1.65" fill="#e51f1f"/>
<circle cx="445.12" cy="93.78" r="1.65" fill="#e51f1f"/>
<circle cx="448.57" cy="95.16" r="1.65" fill="#e51f1f"/>
<circle cx="452.24" cy="89.04" r="1.65" fill="#e51f1f"/>
<circle cx="455.2" cy="91.19" r="1.65" fill="#e51f1f"/>
<circle cx="458.22" cy="93.71" r="1.65" fill="#e51f1f"/>
<circle cx="461.77" cy="92" r="1.65" fill="#e51f1f"/>
<circle cx="464.96" cy="92.05" r="1.65" fill="#e51f1f"/>
<circle cx="468.44" cy="92.96" r="1.65" fill="#e51f1f"/>
<circle cx="471.73" cy="91.87" r="1.65" fill="#e51f1f"/>
<circle cx="475.54" cy="92.38" r="1.65" fill="#e51f1f"/>
<circle cx="478.63" cy="95.63" r="1.65" fill="#e51f1f"/>
<circle cx="481.81" cy="92.58" r="1.65" fill="#e51f1f"/>
<circle cx="484.54" cy="93.29" r="1.65" fill="#e51f1f"/>
<circle cx="488.72" cy="93.4" r="1.65" fill="#e51f1f"/>
<circle cx="491.12" cy="91.58" r="1.65" fill="#e51f1f"/>
<circle cx="495.02" cy="88.46" r="1.65" fill="#e51f1f"/>
<circle cx="497.99" cy="90.09" r="1.65" fill="#e51f1f"/>
<circle cx="501.96" cy="93.54" r="1.65" fill="#e51f1f"/>
<circle cx="504.99" cy="95.37" r="1.65" fill="#e51f1f"/>
<circle cx="508.44" cy="94.38" r="1.65" fill="#e51f1f"/>
<circle cx="511.62" cy="93.09" r="1.65" fill="#e51f1f"/>
<circle cx="515.04" cy="90.43" r="1.65" fill="#e51f1f"/>
<circle cx="390.8" cy="38.25" r="1.65" fill="#2020d0"/>
<circle cx="393.05" cy="49.96" r="1.65" fill="#2020d0"/>
<circle cx="395.31" cy="54.74" r="1.65" fill="#2020d0"/>
<circle cx="397.3" cy="61.88" r="1.65" fill="#2020d0"/>
<circle cx="399.59" cy="65.39" r="1.65" fill="#2020d0"/>
<circle cx="401.89" cy="69.65" r="1.65" fill="#2020d0"/>
<circle cx="404.55" cy="74.92" r="1.65" fill="#2020d0"/>
<circle cx="406.72" cy="77.62" r="1.65" fill="#2020d0"/>
<circle cx="408.85" cy="79.32" r="1.65" fill="#2020d0"/>
<circle cx="410.97" cy="80.91" r="1.65" fill="#2020d0"/>
<circle cx="412.75" cy="79.94" r="1.65" fill="#2020d0"/>
<circle cx="415.69" cy="83.42" r="1.65" fill="#2020d0"/>
<circle cx="417.7" cy="85.32" r="1.65" fill="#2020d0"/>
<circle cx="419.73" cy="85.21" r="1.65" fill="#2020d0"/>
<circle cx="423.4" cy="85.44" r="1.65" fill="#2020d0"/>
<circle cx="427" cy="84.97" r="1.65" fill="#2020d0"/>
<circle cx="429.67" cy="87.67" r="1.65" fill="#2020d0"/>
<circle cx="433.33" cy="88.87" r="1.65" fill="#2020d0"/>
<circle cx="436.85" cy="89.69" r="1.65" fill="#2020d0"/>
<circle cx="439.89" cy="91.09" r="1.65" fill="#2020d0"/>
<circle cx="442.85" cy="86.41" r="1.65" fill="#2020d0"/>
<circle cx="446.48" cy="92.15" r="1.65" fill="#2020d0"/>
<circle cx="449.91" cy="91.43" r="1.65" fill="#2020d0"/>
<circle cx="453.3" cy="92.88" r="1.65" fill="#2020d0"/>
<circle cx="456.26" cy="92.41" r="1.65" fill="#2020d0"/>
<circle cx="459.28" cy="89.74" r="1.65" fill="#2020d0"/>
<circle cx="463.09" cy="92.65" r="1.65" fill="#2020d0"/>
<circle cx="466.39" cy="92.89" r="1.65" fill="#2020d0"/>
<circle cx="469.11" cy="89.95" r="1.65" fill="#2020d0"/>
<circle cx="472.29" cy="86.39" r="1.65" fill="#2020d0"/>
<circle cx="475.63" cy="89.63" r="1.65" fill="#2020d0"/>
<circle cx="479.11" cy="91.66" r="1.65" fill="#2020d0"/>
<circle cx="482.3" cy="89.54" r="1.65" fill="#2020d0"/>
<circle cx="486.12" cy="89.53" r="1.65" fill="#2020d0"/>
<circle cx="488.64" cy="93.39" r="1.65" fill="#2020d0"/>
<circle cx="491.89" cy="90.97" r="1.65" fill="#2020d0"/>
<circle cx="495.85" cy="91.63" r="1.65" fill="#2020d0"/>
<circle cx="499.01" cy="90.82" r="1.65" fill="#2020d0"/>
<circle cx="501.74" cy="89.97" r="1.65" fill="#2020d0"/>
<circle cx="505.15" cy="94.56" r="1.65" fill="#2020d0"/>
<circle cx="509.13" cy="90.84" r="1.65" fill="#2020d0"/>
<circle cx="511.83" cy="91.41" r="1.65" fill="#2020d0"/>
<path d="M388.4,36C388.5,37.43 388.8,42.18 389,44.6C389.2,47.02 389.13,48.07 389.6,50.5C390.07,52.93 391.07,56.78 391.8,59.2C392.53,61.62 393.27,63.2 394,65C394.73,66.8 395.2,67.77 396.2,70C397.2,72.23 398.5,76.02 400,78.4C401.5,80.78 403.45,82.78 405.2,84.3C406.95,85.82 408.75,86.52 410.5,87.5C412.25,88.48 413.68,89.37 415.7,90.2C417.72,91.03 419.88,91.82 422.6,92.5C425.32,93.18 428.27,93.72 432,94.3C435.73,94.88 431,95.55 445,96C459,96.45 504.17,96.83 516,97" fill="none" stroke="#e01010" stroke-width="1.3" stroke-linejoin="round" stroke-linecap="round" />
<path d="M388.5,27C388.57,27.5 388.58,28.28 388.9,30C389.22,31.72 389.92,34.87 390.4,37.3C390.88,39.73 391.2,42.17 391.8,44.6C392.4,47.03 393.13,49.47 394,51.9C394.87,54.33 395.9,56.77 397,59.2C398.1,61.63 399.23,63.97 400.6,66.5C401.97,69.03 403.55,72.2 405.2,74.4C406.85,76.6 408.75,78.17 410.5,79.7C412.25,81.23 413.95,82.4 415.7,83.6C417.45,84.8 419.62,86.13 421,86.9C422.38,87.67 422.17,87.43 424,88.2C425.83,88.97 429.67,90.72 432,91.5C434.33,92.28 435.83,92.52 438,92.9C440.17,93.28 441.33,93.57 445,93.8C448.67,94.03 448.17,94.18 460,94.3C471.83,94.42 506.67,94.47 516,94.5" fill="none" stroke="#1e88a8" stroke-width="1.4" stroke-linejoin="round" stroke-linecap="round" />
<circle cx="391.29" cy="46.66" r="1.65" fill="#3ade3a"/>
<circle cx="393.63" cy="55.41" r="1.65" fill="#3ade3a"/>
<circle cx="396.52" cy="61.64" r="1.65" fill="#3ade3a"/>
<circle cx="399.2" cy="67.31" r="1.65" fill="#3ade3a"/>
<circle cx="401.25" cy="72" r="1.65" fill="#3ade3a"/>
<circle cx="403.49" cy="75.04" r="1.65" fill="#3ade3a"/>
<circle cx="406.55" cy="78.53" r="1.65" fill="#3ade3a"/>
<circle cx="408.55" cy="80.69" r="1.65" fill="#3ade3a"/>
<circle cx="411.59" cy="82.93" r="1.65" fill="#3ade3a"/>
<circle cx="413.95" cy="85.44" r="1.65" fill="#3ade3a"/>
<circle cx="416.35" cy="86.31" r="1.65" fill="#3ade3a"/>
<circle cx="419.28" cy="87.89" r="1.65" fill="#3ade3a"/>
<circle cx="421.19" cy="89.9" r="1.65" fill="#3ade3a"/>
<circle cx="422.75" cy="90.42" r="1.65" fill="#3ade3a"/>
<circle cx="424.43" cy="92.05" r="1.65" fill="#3ade3a"/>
<circle cx="426.48" cy="93.01" r="1.65" fill="#3ade3a"/>
<circle cx="428.22" cy="92.33" r="1.65" fill="#3ade3a"/>
<circle cx="429.91" cy="94.72" r="1.65" fill="#3ade3a"/>
<circle cx="431.53" cy="95.63" r="1.65" fill="#3ade3a"/>
<circle cx="432.86" cy="94.64" r="1.65" fill="#3ade3a"/>
<circle cx="435.07" cy="95.04" r="1.65" fill="#3ade3a"/>
<circle cx="436.91" cy="93.88" r="1.65" fill="#3ade3a"/>
<circle cx="438.95" cy="96.53" r="1.65" fill="#3ade3a"/>
<circle cx="440.72" cy="98.47" r="1.65" fill="#3ade3a"/>
<circle cx="441.83" cy="95" r="1.65" fill="#3ade3a"/>
<circle cx="444.19" cy="96.66" r="1.65" fill="#3ade3a"/>
<circle cx="445.13" cy="97.92" r="1.65" fill="#3ade3a"/>
<circle cx="447.26" cy="96.76" r="1.65" fill="#3ade3a"/>
<circle cx="449.08" cy="96" r="1.65" fill="#3ade3a"/>
<circle cx="450.39" cy="97.24" r="1.65" fill="#3ade3a"/>
<circle cx="452.94" cy="98.04" r="1.65" fill="#3ade3a"/>
<circle cx="454.08" cy="97.71" r="1.65" fill="#3ade3a"/>
<circle cx="455.82" cy="97.3" r="1.65" fill="#3ade3a"/>
<circle cx="457.6" cy="99.85" r="1.65" fill="#3ade3a"/>
<circle cx="460.06" cy="96.88" r="1.65" fill="#3ade3a"/>
<circle cx="461.68" cy="98.34" r="1.65" fill="#3ade3a"/>
<circle cx="463.71" cy="99.62" r="1.65" fill="#3ade3a"/>
<circle cx="464.62" cy="98.15" r="1.65" fill="#3ade3a"/>
<circle cx="466.59" cy="98.77" r="1.65" fill="#3ade3a"/>
<circle cx="468.8" cy="99.76" r="1.65" fill="#3ade3a"/>
<circle cx="470.69" cy="97.79" r="1.65" fill="#3ade3a"/>
<circle cx="472.18" cy="97.65" r="1.65" fill="#3ade3a"/>
<circle cx="474.23" cy="98.23" r="1.65" fill="#3ade3a"/>
<circle cx="476.06" cy="99.52" r="1.65" fill="#3ade3a"/>
<circle cx="477.9" cy="99.13" r="1.65" fill="#3ade3a"/>
<circle cx="479.22" cy="100.52" r="1.65" fill="#3ade3a"/>
<circle cx="481.01" cy="98.05" r="1.65" fill="#3ade3a"/>
<circle cx="482.75" cy="98.37" r="1.65" fill="#3ade3a"/>
<circle cx="484.98" cy="98.49" r="1.65" fill="#3ade3a"/>
<circle cx="486.3" cy="98.54" r="1.65" fill="#3ade3a"/>
<circle cx="488.12" cy="97.24" r="1.65" fill="#3ade3a"/>
<circle cx="489.82" cy="99.76" r="1.65" fill="#3ade3a"/>
<circle cx="491.64" cy="98.59" r="1.65" fill="#3ade3a"/>
<circle cx="493.28" cy="98.39" r="1.65" fill="#3ade3a"/>
<circle cx="494.91" cy="100.94" r="1.65" fill="#3ade3a"/>
<circle cx="496.88" cy="98.16" r="1.65" fill="#3ade3a"/>
<circle cx="499" cy="99.52" r="1.65" fill="#3ade3a"/>
<circle cx="500.85" cy="99.55" r="1.65" fill="#3ade3a"/>
<circle cx="501.91" cy="97.94" r="1.65" fill="#3ade3a"/>
<circle cx="504.11" cy="98.94" r="1.65" fill="#3ade3a"/>
<circle cx="506.04" cy="99.3" r="1.65" fill="#3ade3a"/>
<circle cx="507.06" cy="98.6" r="1.65" fill="#3ade3a"/>
<circle cx="509.49" cy="99.1" r="1.65" fill="#3ade3a"/>
<circle cx="510.9" cy="99.54" r="1.65" fill="#3ade3a"/>
<circle cx="512.45" cy="98.02" r="1.65" fill="#3ade3a"/>
<circle cx="514.85" cy="99.99" r="1.65" fill="#3ade3a"/>
<path d="M388.5,29C388.72,30.58 389.38,35.67 389.8,38.5C390.22,41.33 390.47,43.5 391,46C391.53,48.5 392.17,50.92 393,53.5C393.83,56.08 394.83,58.67 396,61.5C397.17,64.33 398.47,67.92 400,70.5C401.53,73.08 403.45,75.03 405.2,77C406.95,78.97 408.75,80.77 410.5,82.3C412.25,83.83 413.95,85.05 415.7,86.2C417.45,87.35 419.12,88.27 421,89.2C422.88,90.13 425.17,91.08 427,91.8C428.83,92.52 429,92.8 432,93.5C435,94.2 440.33,95.38 445,96C449.67,96.62 448.17,96.93 460,97.2C471.83,97.47 506.67,97.53 516,97.6" fill="none" stroke="#22cc22" stroke-width="1.4" stroke-linejoin="round" stroke-linecap="round" />
<circle cx="389.2" cy="23.2" r="1.7" fill="#2020d0"/>
<circle cx="389" cy="27.5" r="1.7" fill="#35e035"/>
<circle cx="391" cy="36" r="1.6" fill="#1a6a4a"/>
<circle cx="388.9" cy="56.3" r="1.6" fill="#151515"/>
<circle cx="390.4" cy="60.7" r="1.6" fill="#151515"/>
<circle cx="391.8" cy="65.8" r="1.6" fill="#151515"/>
</g>
<circle cx="459.5" cy="14.9" r="1.75" fill="#151515"/>
<text x="469.1" y="17.3" font-size="6.7" text-anchor="start" fill="#2a2a2a" >control</text>
<text x="491.3" y="17.3" font-size="6.7" text-anchor="start" fill="#2a2a2a" >2.92</text>
<text x="505.9" y="17.3" font-size="5.2" text-anchor="start" fill="#2a2a2a" >μs</text>
<circle cx="459.5" cy="24.33" r="1.75" fill="#e51f1f"/>
<text x="469.1" y="26.73" font-size="6.7" text-anchor="start" fill="#2a2a2a" >SIO-2</text>
<text x="492.1" y="26.73" font-size="6.7" text-anchor="start" fill="#2a2a2a" >4.53</text>
<text x="505.9" y="26.73" font-size="5.2" text-anchor="start" fill="#2a2a2a" >μs</text>
<circle cx="459.5" cy="33.76" r="1.75" fill="#2020d0"/>
<text x="469.1" y="36.16" font-size="6.7" text-anchor="start" fill="#2a2a2a" >SIO-5</text>
<text x="492.1" y="36.16" font-size="6.7" text-anchor="start" fill="#2a2a2a" >5.49</text>
<text x="505.9" y="36.16" font-size="5.2" text-anchor="start" fill="#2a2a2a" >μs</text>
<circle cx="459.5" cy="43.19" r="1.75" fill="#35e035"/>
<text x="469.1" y="45.59" font-size="6.7" text-anchor="start" fill="#2a2a2a" >SIO-8</text>
<text x="492.1" y="45.59" font-size="6.7" text-anchor="start" fill="#2a2a2a" >5.23</text>
<text x="505.9" y="45.59" font-size="5.2" text-anchor="start" fill="#2a2a2a" >μs</text>
<text x="0.4" y="154.8" font-size="10.4" text-anchor="start" fill="#2a2a2a" >(d)</text>
<rect x="37.3" y="149.7" width="129.2" height="104.6" fill="none" stroke="#3c3c3c" stroke-width="1.25"/>
<line x1="37.3" y1="254.3" x2="37.3" y2="251.5" stroke="#2a2a2a" stroke-width="0.9"/>
<line x1="63.1" y1="254.3" x2="63.1" y2="251.5" stroke="#2a2a2a" stroke-width="0.9"/>
<line x1="88.9" y1="254.3" x2="88.9" y2="251.5" stroke="#2a2a2a" stroke-width="0.9"/>
<line x1="114.7" y1="254.3" x2="114.7" y2="251.5" stroke="#2a2a2a" stroke-width="0.9"/>
<line x1="140.5" y1="254.3" x2="140.5" y2="251.5" stroke="#2a2a2a" stroke-width="0.9"/>
<line x1="166.3" y1="254.3" x2="166.3" y2="251.5" stroke="#2a2a2a" stroke-width="0.9"/>
<line x1="50.2" y1="254.3" x2="50.2" y2="252.8" stroke="#2a2a2a" stroke-width="0.9"/>
<line x1="76" y1="254.3" x2="76" y2="252.8" stroke="#2a2a2a" stroke-width="0.9"/>
<line x1="101.8" y1="254.3" x2="101.8" y2="252.8" stroke="#2a2a2a" stroke-width="0.9"/>
<line x1="127.6" y1="254.3" x2="127.6" y2="252.8" stroke="#2a2a2a" stroke-width="0.9"/>
<line x1="153.4" y1="254.3" x2="153.4" y2="252.8" stroke="#2a2a2a" stroke-width="0.9"/>
<line x1="37.3" y1="254.3" x2="40.1" y2="254.3" stroke="#2a2a2a" stroke-width="0.9"/>
<line x1="37.3" y1="233.36" x2="40.1" y2="233.36" stroke="#2a2a2a" stroke-width="0.9"/>
<line x1="37.3" y1="212.42" x2="40.1" y2="212.42" stroke="#2a2a2a" stroke-width="0.9"/>
<line x1="37.3" y1="191.48" x2="40.1" y2="191.48" stroke="#2a2a2a" stroke-width="0.9"/>
<line x1="37.3" y1="170.54" x2="40.1" y2="170.54" stroke="#2a2a2a" stroke-width="0.9"/>
<line x1="37.3" y1="149.6" x2="40.1" y2="149.6" stroke="#2a2a2a" stroke-width="0.9"/>
<line x1="37.3" y1="243.83" x2="38.8" y2="243.83" stroke="#2a2a2a" stroke-width="0.9"/>
<line x1="37.3" y1="222.89" x2="38.8" y2="222.89" stroke="#2a2a2a" stroke-width="0.9"/>
<line x1="37.3" y1="201.95" x2="38.8" y2="201.95" stroke="#2a2a2a" stroke-width="0.9"/>
<line x1="37.3" y1="181.01" x2="38.8" y2="181.01" stroke="#2a2a2a" stroke-width="0.9"/>
<line x1="37.3" y1="160.07" x2="38.8" y2="160.07" stroke="#2a2a2a" stroke-width="0.9"/>
<text x="37.3" y="261.8" font-size="6.4" text-anchor="middle" fill="#2a2a2a" >0</text>
<text x="29.6" y="256.6" font-size="6.4" text-anchor="middle" fill="#2a2a2a" >0.0</text>
<text x="63.1" y="261.8" font-size="6.4" text-anchor="middle" fill="#2a2a2a" >5</text>
<text x="29.6" y="235.66" font-size="6.4" text-anchor="middle" fill="#2a2a2a" >0.2</text>
<text x="88.9" y="261.8" font-size="6.4" text-anchor="middle" fill="#2a2a2a" >10</text>
<text x="29.6" y="214.72" font-size="6.4" text-anchor="middle" fill="#2a2a2a" >0.4</text>
<text x="114.7" y="261.8" font-size="6.4" text-anchor="middle" fill="#2a2a2a" >15</text>
<text x="29.6" y="193.78" font-size="6.4" text-anchor="middle" fill="#2a2a2a" >0.6</text>
<text x="140.5" y="261.8" font-size="6.4" text-anchor="middle" fill="#2a2a2a" >20</text>
<text x="29.6" y="172.84" font-size="6.4" text-anchor="middle" fill="#2a2a2a" >0.8</text>
<text x="166.3" y="261.8" font-size="6.4" text-anchor="middle" fill="#2a2a2a" >25</text>
<text x="29.6" y="151.9" font-size="6.4" text-anchor="middle" fill="#2a2a2a" >1.0</text>
<text x="101.8" y="271.4" font-size="8.7" text-anchor="middle" fill="#2a2a2a" >Time (μs)</text>
<text x="0" y="0" font-size="8.7" text-anchor="middle" fill="#222" transform="translate(22.8,201.5) rotate(-90)">Normalized Photocurrent (a.u.)</text>
<g clip-path="url(#cd)">
<circle cx="37.42" cy="151.35" r="1.3" fill="#c8281a"/>
<circle cx="38.56" cy="155.6" r="1.3" fill="#c8281a"/>
<circle cx="39.21" cy="157.98" r="1.3" fill="#c8281a"/>
<circle cx="40.7" cy="161.42" r="1.3" fill="#c8281a"/>
<circle cx="41.8" cy="165.28" r="1.3" fill="#c8281a"/>
<circle cx="42.48" cy="169.54" r="1.3" fill="#c8281a"/>
<circle cx="43.58" cy="173.15" r="1.3" fill="#c8281a"/>
<circle cx="44.29" cy="175.63" r="1.3" fill="#c8281a"/>
<circle cx="45.51" cy="178.81" r="1.3" fill="#c8281a"/>
<circle cx="46.64" cy="182.12" r="1.3" fill="#c8281a"/>
<circle cx="47.65" cy="186.48" r="1.3" fill="#c8281a"/>
<circle cx="48.55" cy="189.8" r="1.3" fill="#c8281a"/>
<circle cx="49.72" cy="193.4" r="1.3" fill="#c8281a"/>
<circle cx="50.48" cy="197.05" r="1.3" fill="#c8281a"/>
<circle cx="51.63" cy="199.49" r="1.3" fill="#c8281a"/>
<circle cx="52.75" cy="200.69" r="1.3" fill="#c8281a"/>
<circle cx="53.47" cy="203.44" r="1.3" fill="#c8281a"/>
<circle cx="54.76" cy="207.54" r="1.3" fill="#c8281a"/>
<circle cx="55.28" cy="209.33" r="1.3" fill="#c8281a"/>
<circle cx="56.33" cy="210.66" r="1.3" fill="#c8281a"/>
<circle cx="57.58" cy="213.39" r="1.3" fill="#c8281a"/>
<circle cx="58.38" cy="214.27" r="1.3" fill="#c8281a"/>
<circle cx="59.41" cy="215.52" r="1.3" fill="#c8281a"/>
<circle cx="60.55" cy="217.78" r="1.3" fill="#c8281a"/>
<circle cx="61.61" cy="217.93" r="1.3" fill="#c8281a"/>
<circle cx="62.76" cy="219.91" r="1.3" fill="#c8281a"/>
<circle cx="63.6" cy="223.43" r="1.3" fill="#c8281a"/>
<circle cx="64.3" cy="221.54" r="1.3" fill="#c8281a"/>
<circle cx="65.74" cy="225.51" r="1.3" fill="#c8281a"/>
<circle cx="66.54" cy="224.09" r="1.3" fill="#c8281a"/>
<circle cx="67.7" cy="226.49" r="1.3" fill="#c8281a"/>
<circle cx="68.54" cy="227.22" r="1.3" fill="#c8281a"/>
<circle cx="69.71" cy="228.72" r="1.3" fill="#c8281a"/>
<circle cx="70.79" cy="230.1" r="1.3" fill="#c8281a"/>
<circle cx="71.45" cy="231.91" r="1.3" fill="#c8281a"/>
<circle cx="72.29" cy="232.38" r="1.3" fill="#c8281a"/>
<circle cx="73.72" cy="232.26" r="1.3" fill="#c8281a"/>
<circle cx="74.23" cy="234.62" r="1.3" fill="#c8281a"/>
<circle cx="75.63" cy="234.12" r="1.3" fill="#c8281a"/>
<circle cx="76.4" cy="234.9" r="1.3" fill="#c8281a"/>
<circle cx="77.5" cy="237.24" r="1.3" fill="#c8281a"/>
<circle cx="78.8" cy="235.22" r="1.3" fill="#c8281a"/>
<circle cx="79.56" cy="237.22" r="1.3" fill="#c8281a"/>
<circle cx="80.22" cy="238.34" r="1.3" fill="#c8281a"/>
<circle cx="81.57" cy="239.07" r="1.3" fill="#c8281a"/>
<circle cx="82.29" cy="240.28" r="1.3" fill="#c8281a"/>
<circle cx="83.39" cy="241.52" r="1.3" fill="#c8281a"/>
<circle cx="84.78" cy="241.09" r="1.3" fill="#c8281a"/>
<circle cx="85.48" cy="241.82" r="1.3" fill="#c8281a"/>
<circle cx="86.51" cy="241.43" r="1.3" fill="#c8281a"/>
<circle cx="87.54" cy="241.82" r="1.3" fill="#c8281a"/>
<circle cx="88.57" cy="242.22" r="1.3" fill="#c8281a"/>
<circle cx="89.46" cy="244.3" r="1.3" fill="#c8281a"/>
<circle cx="90.63" cy="243.71" r="1.3" fill="#c8281a"/>
<circle cx="91.79" cy="244.49" r="1.3" fill="#c8281a"/>
<circle cx="92.51" cy="245.47" r="1.3" fill="#c8281a"/>
<circle cx="93.45" cy="245.21" r="1.3" fill="#c8281a"/>
<circle cx="94.55" cy="245.71" r="1.3" fill="#c8281a"/>
<circle cx="95.58" cy="247.14" r="1.3" fill="#c8281a"/>
<circle cx="96.24" cy="246.73" r="1.3" fill="#c8281a"/>
<circle cx="97.61" cy="246.49" r="1.3" fill="#c8281a"/>
<circle cx="98.41" cy="246.81" r="1.3" fill="#c8281a"/>
<circle cx="99.21" cy="247.41" r="1.3" fill="#c8281a"/>
<circle cx="100.24" cy="246.96" r="1.3" fill="#c8281a"/>
<circle cx="101.35" cy="247.6" r="1.3" fill="#c8281a"/>
<circle cx="102.47" cy="247.14" r="1.3" fill="#c8281a"/>
<circle cx="103.42" cy="248.57" r="1.3" fill="#c8281a"/>
<circle cx="104.39" cy="249.09" r="1.3" fill="#c8281a"/>
<circle cx="105.38" cy="249.07" r="1.3" fill="#c8281a"/>
<circle cx="106.43" cy="250.64" r="1.3" fill="#c8281a"/>
<circle cx="107.54" cy="250.2" r="1.3" fill="#c8281a"/>
<circle cx="108.64" cy="250.24" r="1.3" fill="#c8281a"/>
<circle cx="109.68" cy="250.45" r="1.3" fill="#c8281a"/>
<circle cx="110.34" cy="251.33" r="1.3" fill="#c8281a"/>
<circle cx="111.62" cy="251.38" r="1.3" fill="#c8281a"/>
<circle cx="112.26" cy="252.02" r="1.3" fill="#c8281a"/>
<circle cx="113.7" cy="251.28" r="1.3" fill="#c8281a"/>
<circle cx="114.46" cy="252.35" r="1.3" fill="#c8281a"/>
<circle cx="115.4" cy="252.21" r="1.3" fill="#c8281a"/>
<circle cx="116.59" cy="251.69" r="1.3" fill="#c8281a"/>
<circle cx="117.34" cy="252.69" r="1.3" fill="#c8281a"/>
<circle cx="118.27" cy="251.7" r="1.3" fill="#c8281a"/>
<circle cx="119.68" cy="251.84" r="1.3" fill="#c8281a"/>
<circle cx="120.7" cy="252.09" r="1.3" fill="#c8281a"/>
<circle cx="121.68" cy="252.49" r="1.3" fill="#c8281a"/>
<circle cx="122.59" cy="252.87" r="1.3" fill="#c8281a"/>
<circle cx="123.28" cy="252.66" r="1.3" fill="#c8281a"/>
<circle cx="124.38" cy="251.92" r="1.3" fill="#c8281a"/>
<circle cx="125.41" cy="252.76" r="1.3" fill="#c8281a"/>
<circle cx="126.45" cy="252.16" r="1.3" fill="#c8281a"/>
<circle cx="127.75" cy="252.15" r="1.3" fill="#c8281a"/>
<circle cx="128.29" cy="253.22" r="1.3" fill="#c8281a"/>
<circle cx="129.73" cy="254.63" r="1.3" fill="#c8281a"/>
<circle cx="130.79" cy="253.05" r="1.3" fill="#c8281a"/>
<circle cx="131.76" cy="251.45" r="1.3" fill="#c8281a"/>
<circle cx="132.33" cy="253.71" r="1.3" fill="#c8281a"/>
<circle cx="133.6" cy="253" r="1.3" fill="#c8281a"/>
<circle cx="134.51" cy="251.72" r="1.3" fill="#c8281a"/>
<circle cx="135.34" cy="252.9" r="1.3" fill="#c8281a"/>
<circle cx="136.24" cy="253.69" r="1.3" fill="#c8281a"/>
<circle cx="137.69" cy="252.59" r="1.3" fill="#c8281a"/>
<circle cx="138.23" cy="252.79" r="1.3" fill="#c8281a"/>
<circle cx="139.75" cy="253.99" r="1.3" fill="#c8281a"/>
<circle cx="140.74" cy="252.5" r="1.3" fill="#c8281a"/>
<circle cx="141.21" cy="253.87" r="1.3" fill="#c8281a"/>
<circle cx="142.65" cy="252.59" r="1.3" fill="#c8281a"/>
<circle cx="143.6" cy="253.42" r="1.3" fill="#c8281a"/>
<circle cx="144.51" cy="253.68" r="1.3" fill="#c8281a"/>
<circle cx="145.57" cy="251.75" r="1.3" fill="#c8281a"/>
<circle cx="146.4" cy="254.03" r="1.3" fill="#c8281a"/>
<circle cx="147.49" cy="253.17" r="1.3" fill="#c8281a"/>
<circle cx="148.67" cy="254.59" r="1.3" fill="#c8281a"/>
<circle cx="149.52" cy="252.93" r="1.3" fill="#c8281a"/>
<circle cx="150.69" cy="253.59" r="1.3" fill="#c8281a"/>
<circle cx="151.75" cy="253.82" r="1.3" fill="#c8281a"/>
<circle cx="152.68" cy="254.33" r="1.3" fill="#c8281a"/>
<circle cx="153.58" cy="253.29" r="1.3" fill="#c8281a"/>
<circle cx="154.72" cy="253.19" r="1.3" fill="#c8281a"/>
<circle cx="155.36" cy="253.81" r="1.3" fill="#c8281a"/>
<circle cx="156.52" cy="253.46" r="1.3" fill="#c8281a"/>
<circle cx="157.67" cy="252.6" r="1.3" fill="#c8281a"/>
<circle cx="158.2" cy="253.68" r="1.3" fill="#c8281a"/>
<circle cx="159.27" cy="253.66" r="1.3" fill="#c8281a"/>
<circle cx="160.24" cy="253.45" r="1.3" fill="#c8281a"/>
<circle cx="161.25" cy="254.7" r="1.3" fill="#c8281a"/>
<circle cx="162.5" cy="253.13" r="1.3" fill="#c8281a"/>
<circle cx="163.41" cy="253.12" r="1.3" fill="#c8281a"/>
<circle cx="164.59" cy="253.93" r="1.3" fill="#c8281a"/>
<circle cx="165.31" cy="252.82" r="1.3" fill="#c8281a"/>
<circle cx="166.4" cy="253.05" r="1.3" fill="#c8281a"/>
<circle cx="37.63" cy="151.41" r="1.35" fill="#1a1a1a"/>
<circle cx="38.83" cy="156.21" r="1.35" fill="#1a1a1a"/>
<circle cx="40.22" cy="160.75" r="1.35" fill="#1a1a1a"/>
<circle cx="41.76" cy="165.7" r="1.35" fill="#1a1a1a"/>
<circle cx="43.28" cy="170.82" r="1.35" fill="#1a1a1a"/>
<circle cx="44.57" cy="174.95" r="1.35" fill="#1a1a1a"/>
<circle cx="45.9" cy="179.81" r="1.35" fill="#1a1a1a"/>
<circle cx="47.42" cy="185.64" r="1.35" fill="#1a1a1a"/>
<circle cx="48.68" cy="188.96" r="1.35" fill="#1a1a1a"/>
<circle cx="49.95" cy="195.36" r="1.35" fill="#1a1a1a"/>
<circle cx="51.24" cy="197.73" r="1.35" fill="#1a1a1a"/>
<circle cx="52.85" cy="201.83" r="1.35" fill="#1a1a1a"/>
<circle cx="54.56" cy="203.81" r="1.35" fill="#1a1a1a"/>
<circle cx="55.62" cy="209.1" r="1.35" fill="#1a1a1a"/>
<circle cx="56.96" cy="211.98" r="1.35" fill="#1a1a1a"/>
<circle cx="58.48" cy="212.49" r="1.35" fill="#1a1a1a"/>
<circle cx="60" cy="216.87" r="1.35" fill="#1a1a1a"/>
<circle cx="61.53" cy="217.28" r="1.35" fill="#1a1a1a"/>
<circle cx="62.84" cy="218.57" r="1.35" fill="#1a1a1a"/>
<circle cx="64.14" cy="218.93" r="1.35" fill="#1a1a1a"/>
<circle cx="65.2" cy="222.5" r="1.35" fill="#1a1a1a"/>
<circle cx="66.69" cy="223.87" r="1.35" fill="#1a1a1a"/>
<circle cx="68.06" cy="224.81" r="1.35" fill="#1a1a1a"/>
<circle cx="69.46" cy="226.05" r="1.35" fill="#1a1a1a"/>
<circle cx="70.81" cy="228.15" r="1.35" fill="#1a1a1a"/>
<circle cx="72.7" cy="228.67" r="1.35" fill="#1a1a1a"/>
<circle cx="74" cy="231.35" r="1.35" fill="#1a1a1a"/>
<circle cx="75.5" cy="232.49" r="1.35" fill="#1a1a1a"/>
<circle cx="76.88" cy="233.5" r="1.35" fill="#1a1a1a"/>
<circle cx="77.82" cy="233.25" r="1.35" fill="#1a1a1a"/>
<circle cx="79.63" cy="234.72" r="1.35" fill="#1a1a1a"/>
<circle cx="80.66" cy="234.73" r="1.35" fill="#1a1a1a"/>
<circle cx="82.04" cy="236.74" r="1.35" fill="#1a1a1a"/>
<circle cx="83.59" cy="235.62" r="1.35" fill="#1a1a1a"/>
<circle cx="84.95" cy="236.8" r="1.35" fill="#1a1a1a"/>
<circle cx="86.31" cy="238.29" r="1.35" fill="#1a1a1a"/>
<circle cx="88.05" cy="239.56" r="1.35" fill="#1a1a1a"/>
<circle cx="89.24" cy="241.36" r="1.35" fill="#1a1a1a"/>
<circle cx="90.61" cy="240.3" r="1.35" fill="#1a1a1a"/>
<circle cx="92.05" cy="241.93" r="1.35" fill="#1a1a1a"/>
<circle cx="93.78" cy="242.65" r="1.35" fill="#1a1a1a"/>
<circle cx="94.85" cy="242.79" r="1.35" fill="#1a1a1a"/>
<circle cx="96.41" cy="242.81" r="1.35" fill="#1a1a1a"/>
<circle cx="97.85" cy="242.78" r="1.35" fill="#1a1a1a"/>
<circle cx="99.09" cy="243.07" r="1.35" fill="#1a1a1a"/>
<circle cx="100.59" cy="242.91" r="1.35" fill="#1a1a1a"/>
<circle cx="101.66" cy="244.39" r="1.35" fill="#1a1a1a"/>
<circle cx="103.45" cy="244.01" r="1.35" fill="#1a1a1a"/>
<circle cx="104.67" cy="245.38" r="1.35" fill="#1a1a1a"/>
<circle cx="106.23" cy="244.23" r="1.35" fill="#1a1a1a"/>
<circle cx="107.32" cy="245.1" r="1.35" fill="#1a1a1a"/>
<circle cx="108.95" cy="245.57" r="1.35" fill="#1a1a1a"/>
<circle cx="110.41" cy="244.9" r="1.35" fill="#1a1a1a"/>
<circle cx="111.97" cy="245.8" r="1.35" fill="#1a1a1a"/>
<circle cx="113.05" cy="245.05" r="1.35" fill="#1a1a1a"/>
<circle cx="114.71" cy="246.75" r="1.35" fill="#1a1a1a"/>
<circle cx="115.73" cy="246.68" r="1.35" fill="#1a1a1a"/>
<circle cx="117.01" cy="246.94" r="1.35" fill="#1a1a1a"/>
<circle cx="118.5" cy="246.52" r="1.35" fill="#1a1a1a"/>
<circle cx="120.02" cy="247.44" r="1.35" fill="#1a1a1a"/>
<circle cx="121.29" cy="246.77" r="1.35" fill="#1a1a1a"/>
<circle cx="123.19" cy="248.65" r="1.35" fill="#1a1a1a"/>
<circle cx="124.28" cy="246.38" r="1.35" fill="#1a1a1a"/>
<circle cx="125.9" cy="247.62" r="1.35" fill="#1a1a1a"/>
<circle cx="127.09" cy="247.97" r="1.35" fill="#1a1a1a"/>
<circle cx="128.63" cy="246.64" r="1.35" fill="#1a1a1a"/>
<circle cx="130.04" cy="248.1" r="1.35" fill="#1a1a1a"/>
<circle cx="131.58" cy="246.97" r="1.35" fill="#1a1a1a"/>
<circle cx="132.54" cy="247.05" r="1.35" fill="#1a1a1a"/>
<circle cx="134.23" cy="247.74" r="1.35" fill="#1a1a1a"/>
<circle cx="135.71" cy="246.72" r="1.35" fill="#1a1a1a"/>
<circle cx="136.75" cy="245.84" r="1.35" fill="#1a1a1a"/>
<circle cx="138.11" cy="247.87" r="1.35" fill="#1a1a1a"/>
<circle cx="139.82" cy="248.23" r="1.35" fill="#1a1a1a"/>
<circle cx="140.95" cy="248.74" r="1.35" fill="#1a1a1a"/>
<circle cx="142.72" cy="246.34" r="1.35" fill="#1a1a1a"/>
<circle cx="144.04" cy="247.35" r="1.35" fill="#1a1a1a"/>
<circle cx="145.05" cy="248.46" r="1.35" fill="#1a1a1a"/>
<circle cx="146.58" cy="248.96" r="1.35" fill="#1a1a1a"/>
<circle cx="148.01" cy="248.53" r="1.35" fill="#1a1a1a"/>
<circle cx="149.2" cy="246.65" r="1.35" fill="#1a1a1a"/>
<circle cx="150.8" cy="247.13" r="1.35" fill="#1a1a1a"/>
<circle cx="152.13" cy="246.87" r="1.35" fill="#1a1a1a"/>
<circle cx="153.75" cy="248.09" r="1.35" fill="#1a1a1a"/>
<circle cx="155.13" cy="248.5" r="1.35" fill="#1a1a1a"/>
<circle cx="156.27" cy="247.52" r="1.35" fill="#1a1a1a"/>
<circle cx="157.67" cy="247.57" r="1.35" fill="#1a1a1a"/>
<circle cx="159.53" cy="248.93" r="1.35" fill="#1a1a1a"/>
<circle cx="160.96" cy="248.07" r="1.35" fill="#1a1a1a"/>
<circle cx="162.02" cy="247.58" r="1.35" fill="#1a1a1a"/>
<circle cx="163.38" cy="247.97" r="1.35" fill="#1a1a1a"/>
<circle cx="165.01" cy="246.46" r="1.35" fill="#1a1a1a"/>
<circle cx="166.16" cy="246.97" r="1.35" fill="#1a1a1a"/>
<path d="M37.3,150C37.83,151.83 39.38,157 40.5,161C41.62,165 42.83,169.83 44,174C45.17,178.17 46.33,182 47.5,186C48.67,190 49.67,194.25 51,198C52.33,201.75 54,205.42 55.5,208.5C57,211.58 58.67,214.33 60,216.5C61.33,218.67 62.25,219.92 63.5,221.5C64.75,223.08 66.25,224.62 67.5,226C68.75,227.38 69.75,228.58 71,229.8C72.25,231.02 73.08,231.77 75,233.3C76.92,234.83 80,237.35 82.5,239C85,240.65 87.52,241.97 90,243.2C92.48,244.43 94.9,245.43 97.4,246.4C99.9,247.37 102.07,248.18 105,249C107.93,249.82 110.83,250.7 115,251.3C119.17,251.9 121.33,252.32 130,252.6C138.67,252.88 160.83,252.93 167,253" fill="none" stroke="#b01818" stroke-width="1.3" stroke-linejoin="round" stroke-linecap="round" />
<circle cx="37.65" cy="150.03" r="1.55" fill="#4ee24e"/>
<circle cx="38.02" cy="154.63" r="1.55" fill="#4ee24e"/>
<circle cx="38.27" cy="154.94" r="1.55" fill="#4ee24e"/>
<circle cx="39.13" cy="156.37" r="1.55" fill="#4ee24e"/>
<circle cx="39.61" cy="159.19" r="1.55" fill="#4ee24e"/>
<circle cx="40.09" cy="160.58" r="1.55" fill="#4ee24e"/>
<circle cx="40.58" cy="162.79" r="1.55" fill="#4ee24e"/>
<circle cx="41.09" cy="165.75" r="1.55" fill="#4ee24e"/>
<circle cx="41.27" cy="168.56" r="1.55" fill="#4ee24e"/>
<circle cx="41.9" cy="169.22" r="1.55" fill="#4ee24e"/>
<circle cx="42.63" cy="170.48" r="1.55" fill="#4ee24e"/>
<circle cx="43.09" cy="171.66" r="1.55" fill="#4ee24e"/>
<circle cx="43.47" cy="173.94" r="1.55" fill="#4ee24e"/>
<circle cx="43.74" cy="176.39" r="1.55" fill="#4ee24e"/>
<circle cx="44.63" cy="179.12" r="1.55" fill="#4ee24e"/>
<circle cx="45.14" cy="180.63" r="1.55" fill="#4ee24e"/>
<circle cx="45.42" cy="181.47" r="1.55" fill="#4ee24e"/>
<circle cx="46.22" cy="184.51" r="1.55" fill="#4ee24e"/>
<circle cx="46.23" cy="187.34" r="1.55" fill="#4ee24e"/>
<circle cx="47.16" cy="187.64" r="1.55" fill="#4ee24e"/>
<circle cx="47.41" cy="190.15" r="1.55" fill="#4ee24e"/>
<circle cx="48.02" cy="191.57" r="1.55" fill="#4ee24e"/>
<circle cx="48.66" cy="194.68" r="1.55" fill="#4ee24e"/>
<circle cx="48.77" cy="194.69" r="1.55" fill="#4ee24e"/>
<circle cx="49.36" cy="198.99" r="1.55" fill="#4ee24e"/>
<circle cx="50.17" cy="199.54" r="1.55" fill="#4ee24e"/>
<circle cx="50.64" cy="201.02" r="1.55" fill="#4ee24e"/>
<circle cx="50.95" cy="202.58" r="1.55" fill="#4ee24e"/>
<circle cx="51.65" cy="204.47" r="1.55" fill="#4ee24e"/>
<circle cx="52.06" cy="206.12" r="1.55" fill="#4ee24e"/>
<circle cx="52.29" cy="205.73" r="1.55" fill="#4ee24e"/>
<circle cx="53.02" cy="208.03" r="1.55" fill="#4ee24e"/>
<circle cx="53.54" cy="210.25" r="1.55" fill="#4ee24e"/>
<circle cx="54.17" cy="211.5" r="1.55" fill="#4ee24e"/>
<circle cx="54.22" cy="213.35" r="1.55" fill="#4ee24e"/>
<circle cx="55.27" cy="214.72" r="1.55" fill="#4ee24e"/>
<circle cx="55.43" cy="213.26" r="1.55" fill="#4ee24e"/>
<circle cx="56.08" cy="214.87" r="1.55" fill="#4ee24e"/>
<circle cx="56.79" cy="216.56" r="1.55" fill="#4ee24e"/>
<circle cx="57.22" cy="217.61" r="1.55" fill="#4ee24e"/>
<circle cx="57.49" cy="218.15" r="1.55" fill="#4ee24e"/>
<circle cx="57.7" cy="218.63" r="1.55" fill="#4ee24e"/>
<circle cx="58.66" cy="219.89" r="1.55" fill="#4ee24e"/>
<circle cx="59.01" cy="221.15" r="1.55" fill="#4ee24e"/>
<circle cx="59.48" cy="221.76" r="1.55" fill="#4ee24e"/>
<circle cx="59.72" cy="223.98" r="1.55" fill="#4ee24e"/>
<circle cx="60.5" cy="225.42" r="1.55" fill="#4ee24e"/>
<circle cx="61.04" cy="224.58" r="1.55" fill="#4ee24e"/>
<circle cx="61.78" cy="225.18" r="1.55" fill="#4ee24e"/>
<circle cx="62.18" cy="227.12" r="1.55" fill="#4ee24e"/>
<circle cx="62.57" cy="227.22" r="1.55" fill="#4ee24e"/>
<circle cx="62.84" cy="229.12" r="1.55" fill="#4ee24e"/>
<circle cx="63.25" cy="229.37" r="1.55" fill="#4ee24e"/>
<circle cx="63.89" cy="227.71" r="1.55" fill="#4ee24e"/>
<circle cx="64.72" cy="229.85" r="1.55" fill="#4ee24e"/>
<circle cx="65.21" cy="230.81" r="1.55" fill="#4ee24e"/>
<circle cx="65.56" cy="231.15" r="1.55" fill="#4ee24e"/>
<circle cx="66.14" cy="233.51" r="1.55" fill="#4ee24e"/>
<circle cx="66.41" cy="232.22" r="1.55" fill="#4ee24e"/>
<circle cx="67.22" cy="234.2" r="1.55" fill="#4ee24e"/>
<circle cx="67.46" cy="232.15" r="1.55" fill="#4ee24e"/>
<circle cx="67.77" cy="234.72" r="1.55" fill="#4ee24e"/>
<circle cx="68.23" cy="234.21" r="1.55" fill="#4ee24e"/>
<circle cx="68.8" cy="236.35" r="1.55" fill="#4ee24e"/>
<circle cx="69.5" cy="236.67" r="1.55" fill="#4ee24e"/>
<circle cx="69.95" cy="236.61" r="1.55" fill="#4ee24e"/>
<circle cx="70.59" cy="236.47" r="1.55" fill="#4ee24e"/>
<circle cx="71.15" cy="237.76" r="1.55" fill="#4ee24e"/>
<circle cx="71.44" cy="239.48" r="1.55" fill="#4ee24e"/>
<circle cx="72.13" cy="239.79" r="1.55" fill="#4ee24e"/>
<circle cx="72.42" cy="241.16" r="1.55" fill="#4ee24e"/>
<circle cx="73.06" cy="239.09" r="1.55" fill="#4ee24e"/>
<circle cx="73.33" cy="241.09" r="1.55" fill="#4ee24e"/>
<circle cx="74.17" cy="241.34" r="1.55" fill="#4ee24e"/>
<circle cx="74.29" cy="241.17" r="1.55" fill="#4ee24e"/>
<circle cx="74.83" cy="241.03" r="1.55" fill="#4ee24e"/>
<circle cx="75.3" cy="242.05" r="1.55" fill="#4ee24e"/>
<circle cx="75.72" cy="241.75" r="1.55" fill="#4ee24e"/>
<circle cx="76.27" cy="242.81" r="1.55" fill="#4ee24e"/>
<circle cx="76.74" cy="243.31" r="1.55" fill="#4ee24e"/>
<circle cx="77.21" cy="244.01" r="1.55" fill="#4ee24e"/>
<circle cx="78.12" cy="242.53" r="1.55" fill="#4ee24e"/>
<circle cx="78.23" cy="244" r="1.55" fill="#4ee24e"/>
<circle cx="78.72" cy="243.26" r="1.55" fill="#4ee24e"/>
<circle cx="79.78" cy="244.82" r="1.55" fill="#4ee24e"/>
<circle cx="79.98" cy="245.08" r="1.55" fill="#4ee24e"/>
<circle cx="80.3" cy="245.69" r="1.55" fill="#4ee24e"/>
<circle cx="80.77" cy="245" r="1.55" fill="#4ee24e"/>
<circle cx="81.23" cy="245.32" r="1.55" fill="#4ee24e"/>
<circle cx="82.17" cy="246.1" r="1.55" fill="#4ee24e"/>
<circle cx="82.48" cy="245.79" r="1.55" fill="#4ee24e"/>
<circle cx="82.85" cy="247.36" r="1.55" fill="#4ee24e"/>
<circle cx="83.36" cy="246.52" r="1.55" fill="#4ee24e"/>
<circle cx="83.91" cy="247.5" r="1.55" fill="#4ee24e"/>
<circle cx="84.26" cy="246" r="1.55" fill="#4ee24e"/>
<circle cx="85.06" cy="246.35" r="1.55" fill="#4ee24e"/>
<circle cx="85.2" cy="245.34" r="1.55" fill="#4ee24e"/>
<circle cx="85.8" cy="248.05" r="1.55" fill="#4ee24e"/>
<circle cx="86.22" cy="247.91" r="1.55" fill="#4ee24e"/>
<circle cx="87.24" cy="249.24" r="1.55" fill="#4ee24e"/>
<circle cx="87.32" cy="248.6" r="1.55" fill="#4ee24e"/>
<circle cx="88.18" cy="249.34" r="1.55" fill="#4ee24e"/>
<circle cx="88.75" cy="248.33" r="1.55" fill="#4ee24e"/>
<circle cx="88.88" cy="248.89" r="1.55" fill="#4ee24e"/>
<circle cx="89.56" cy="248.75" r="1.55" fill="#4ee24e"/>
<circle cx="89.88" cy="249.36" r="1.55" fill="#4ee24e"/>
<circle cx="90.71" cy="248.97" r="1.55" fill="#4ee24e"/>
<circle cx="90.9" cy="249.86" r="1.55" fill="#4ee24e"/>
<circle cx="91.61" cy="249.87" r="1.55" fill="#4ee24e"/>
<circle cx="92.14" cy="249.87" r="1.55" fill="#4ee24e"/>
<circle cx="92.64" cy="249.22" r="1.55" fill="#4ee24e"/>
<circle cx="93.25" cy="250.14" r="1.55" fill="#4ee24e"/>
<circle cx="93.42" cy="248.67" r="1.55" fill="#4ee24e"/>
<circle cx="94.17" cy="249.18" r="1.55" fill="#4ee24e"/>
<circle cx="94.49" cy="250.17" r="1.55" fill="#4ee24e"/>
<circle cx="95.13" cy="249.86" r="1.55" fill="#4ee24e"/>
<circle cx="95.56" cy="250.57" r="1.55" fill="#4ee24e"/>
<circle cx="95.99" cy="249.9" r="1.55" fill="#4ee24e"/>
<circle cx="96.29" cy="249.34" r="1.55" fill="#4ee24e"/>
<circle cx="96.98" cy="250.25" r="1.55" fill="#4ee24e"/>
<circle cx="97.66" cy="250.16" r="1.55" fill="#4ee24e"/>
<circle cx="97.84" cy="250.21" r="1.55" fill="#4ee24e"/>
<circle cx="98.71" cy="250.07" r="1.55" fill="#4ee24e"/>
<circle cx="99.22" cy="249.32" r="1.55" fill="#4ee24e"/>
<circle cx="99.47" cy="249.08" r="1.55" fill="#4ee24e"/>
<circle cx="99.9" cy="251.73" r="1.55" fill="#4ee24e"/>
<circle cx="100.42" cy="249.72" r="1.55" fill="#4ee24e"/>
<circle cx="101.27" cy="251.47" r="1.55" fill="#4ee24e"/>
<circle cx="101.26" cy="251.09" r="1.55" fill="#4ee24e"/>
<circle cx="101.75" cy="250.34" r="1.55" fill="#4ee24e"/>
<circle cx="102.59" cy="250.6" r="1.55" fill="#4ee24e"/>
<circle cx="102.79" cy="250.84" r="1.55" fill="#4ee24e"/>
<circle cx="103.59" cy="251.15" r="1.55" fill="#4ee24e"/>
<circle cx="103.84" cy="250.79" r="1.55" fill="#4ee24e"/>
<circle cx="104.78" cy="250.89" r="1.55" fill="#4ee24e"/>
<circle cx="104.95" cy="251.22" r="1.55" fill="#4ee24e"/>
<circle cx="105.67" cy="252.16" r="1.55" fill="#4ee24e"/>
<circle cx="106.02" cy="249.78" r="1.55" fill="#4ee24e"/>
<circle cx="106.31" cy="250.09" r="1.55" fill="#4ee24e"/>
<circle cx="107.2" cy="251.24" r="1.55" fill="#4ee24e"/>
<circle cx="107.27" cy="251.43" r="1.55" fill="#4ee24e"/>
<circle cx="107.82" cy="253.44" r="1.55" fill="#4ee24e"/>
<circle cx="108.74" cy="251.49" r="1.55" fill="#4ee24e"/>
<circle cx="108.83" cy="252.02" r="1.55" fill="#4ee24e"/>
<circle cx="109.7" cy="251.7" r="1.55" fill="#4ee24e"/>
<circle cx="110.16" cy="250.23" r="1.55" fill="#4ee24e"/>
<circle cx="110.72" cy="250.36" r="1.55" fill="#4ee24e"/>
<circle cx="110.97" cy="250.55" r="1.55" fill="#4ee24e"/>
<circle cx="111.27" cy="252.27" r="1.55" fill="#4ee24e"/>
<circle cx="112.19" cy="251.9" r="1.55" fill="#4ee24e"/>
<circle cx="112.32" cy="250.26" r="1.55" fill="#4ee24e"/>
<circle cx="113.14" cy="250.34" r="1.55" fill="#4ee24e"/>
<circle cx="113.25" cy="251.09" r="1.55" fill="#4ee24e"/>
<circle cx="113.74" cy="250.77" r="1.55" fill="#4ee24e"/>
<circle cx="114.53" cy="252.23" r="1.55" fill="#4ee24e"/>
<circle cx="115.09" cy="251.31" r="1.55" fill="#4ee24e"/>
<circle cx="115.56" cy="250.48" r="1.55" fill="#4ee24e"/>
<circle cx="116.3" cy="251.63" r="1.55" fill="#4ee24e"/>
<circle cx="116.4" cy="252.28" r="1.55" fill="#4ee24e"/>
<circle cx="116.83" cy="251.14" r="1.55" fill="#4ee24e"/>
<circle cx="117.3" cy="251.66" r="1.55" fill="#4ee24e"/>
<circle cx="118.22" cy="252.83" r="1.55" fill="#4ee24e"/>
<circle cx="118.79" cy="250.93" r="1.55" fill="#4ee24e"/>
<circle cx="119.02" cy="249.97" r="1.55" fill="#4ee24e"/>
<circle cx="119.45" cy="250.23" r="1.55" fill="#4ee24e"/>
<circle cx="120.27" cy="253.44" r="1.55" fill="#4ee24e"/>
<circle cx="120.49" cy="250.98" r="1.55" fill="#4ee24e"/>
<circle cx="121.3" cy="251.74" r="1.55" fill="#4ee24e"/>
<circle cx="121.75" cy="250.7" r="1.55" fill="#4ee24e"/>
<circle cx="121.81" cy="251.06" r="1.55" fill="#4ee24e"/>
<circle cx="122.26" cy="253.64" r="1.55" fill="#4ee24e"/>
<circle cx="123.01" cy="251.48" r="1.55" fill="#4ee24e"/>
<circle cx="123.58" cy="250.87" r="1.55" fill="#4ee24e"/>
<circle cx="123.87" cy="253.06" r="1.55" fill="#4ee24e"/>
<circle cx="124.46" cy="251.99" r="1.55" fill="#4ee24e"/>
<circle cx="125.15" cy="250.79" r="1.55" fill="#4ee24e"/>
<circle cx="125.37" cy="252.85" r="1.55" fill="#4ee24e"/>
<circle cx="125.95" cy="252.23" r="1.55" fill="#4ee24e"/>
<circle cx="126.25" cy="252.09" r="1.55" fill="#4ee24e"/>
<circle cx="127.12" cy="252.5" r="1.55" fill="#4ee24e"/>
<circle cx="127.79" cy="252.88" r="1.55" fill="#4ee24e"/>
<circle cx="127.92" cy="253.46" r="1.55" fill="#4ee24e"/>
<circle cx="128.3" cy="251.4" r="1.55" fill="#4ee24e"/>
<circle cx="129.02" cy="251.26" r="1.55" fill="#4ee24e"/>
<circle cx="129.53" cy="252.57" r="1.55" fill="#4ee24e"/>
<circle cx="129.87" cy="250.52" r="1.55" fill="#4ee24e"/>
<circle cx="130.48" cy="253" r="1.55" fill="#4ee24e"/>
<circle cx="130.88" cy="252.88" r="1.55" fill="#4ee24e"/>
<circle cx="131.35" cy="250.58" r="1.55" fill="#4ee24e"/>
<circle cx="131.78" cy="251.7" r="1.55" fill="#4ee24e"/>
<circle cx="132.52" cy="251.53" r="1.55" fill="#4ee24e"/>
<circle cx="132.73" cy="251.13" r="1.55" fill="#4ee24e"/>
<circle cx="133.32" cy="251.54" r="1.55" fill="#4ee24e"/>
<circle cx="134.29" cy="251.79" r="1.55" fill="#4ee24e"/>
<circle cx="134.67" cy="250.66" r="1.55" fill="#4ee24e"/>
<circle cx="134.81" cy="251.9" r="1.55" fill="#4ee24e"/>
<circle cx="135.21" cy="251.63" r="1.55" fill="#4ee24e"/>
<circle cx="135.73" cy="250.92" r="1.55" fill="#4ee24e"/>
<circle cx="136.53" cy="252.01" r="1.55" fill="#4ee24e"/>
<circle cx="136.85" cy="252.32" r="1.55" fill="#4ee24e"/>
<circle cx="137.68" cy="252.11" r="1.55" fill="#4ee24e"/>
<circle cx="137.73" cy="251.07" r="1.55" fill="#4ee24e"/>
<circle cx="138.46" cy="252.02" r="1.55" fill="#4ee24e"/>
<circle cx="139.25" cy="250.74" r="1.55" fill="#4ee24e"/>
<circle cx="139.69" cy="250.71" r="1.55" fill="#4ee24e"/>
<circle cx="140.15" cy="251.69" r="1.55" fill="#4ee24e"/>
<circle cx="140.67" cy="252.17" r="1.55" fill="#4ee24e"/>
<circle cx="141.03" cy="249.99" r="1.55" fill="#4ee24e"/>
<circle cx="141.37" cy="251.6" r="1.55" fill="#4ee24e"/>
<circle cx="142.09" cy="251.78" r="1.55" fill="#4ee24e"/>
<circle cx="142.74" cy="251.84" r="1.55" fill="#4ee24e"/>
<circle cx="143.1" cy="252.54" r="1.55" fill="#4ee24e"/>
<circle cx="143.76" cy="251.14" r="1.55" fill="#4ee24e"/>
<circle cx="143.95" cy="252.18" r="1.55" fill="#4ee24e"/>
<circle cx="144.51" cy="250.58" r="1.55" fill="#4ee24e"/>
<circle cx="145.11" cy="251.98" r="1.55" fill="#4ee24e"/>
<circle cx="145.8" cy="252.21" r="1.55" fill="#4ee24e"/>
<circle cx="145.91" cy="250.83" r="1.55" fill="#4ee24e"/>
<circle cx="146.47" cy="251.44" r="1.55" fill="#4ee24e"/>
<circle cx="147.28" cy="252.04" r="1.55" fill="#4ee24e"/>
<circle cx="147.29" cy="250.78" r="1.55" fill="#4ee24e"/>
<circle cx="147.95" cy="251.29" r="1.55" fill="#4ee24e"/>
<circle cx="148.71" cy="252.73" r="1.55" fill="#4ee24e"/>
<circle cx="149.07" cy="252.7" r="1.55" fill="#4ee24e"/>
<circle cx="149.22" cy="249.89" r="1.55" fill="#4ee24e"/>
<circle cx="149.99" cy="250.71" r="1.55" fill="#4ee24e"/>
<circle cx="150.37" cy="251.22" r="1.55" fill="#4ee24e"/>
<circle cx="150.76" cy="251.23" r="1.55" fill="#4ee24e"/>
<circle cx="151.6" cy="249.82" r="1.55" fill="#4ee24e"/>
<circle cx="152.24" cy="250.99" r="1.55" fill="#4ee24e"/>
<circle cx="152.78" cy="252.52" r="1.55" fill="#4ee24e"/>
<circle cx="153.25" cy="251.37" r="1.55" fill="#4ee24e"/>
<circle cx="153.31" cy="251.28" r="1.55" fill="#4ee24e"/>
<circle cx="153.89" cy="250.49" r="1.55" fill="#4ee24e"/>
<circle cx="154.36" cy="252.88" r="1.55" fill="#4ee24e"/>
<circle cx="154.89" cy="253.8" r="1.55" fill="#4ee24e"/>
<circle cx="155.44" cy="251.08" r="1.55" fill="#4ee24e"/>
<circle cx="155.85" cy="251.66" r="1.55" fill="#4ee24e"/>
<circle cx="156.79" cy="252.22" r="1.55" fill="#4ee24e"/>
<circle cx="156.82" cy="252.33" r="1.55" fill="#4ee24e"/>
<circle cx="157.25" cy="252.07" r="1.55" fill="#4ee24e"/>
<circle cx="158.2" cy="250.3" r="1.55" fill="#4ee24e"/>
<circle cx="158.58" cy="251.52" r="1.55" fill="#4ee24e"/>
<circle cx="158.87" cy="251.8" r="1.55" fill="#4ee24e"/>
<circle cx="159.78" cy="251.68" r="1.55" fill="#4ee24e"/>
<circle cx="159.99" cy="252.41" r="1.55" fill="#4ee24e"/>
<circle cx="160.36" cy="252.07" r="1.55" fill="#4ee24e"/>
<circle cx="160.84" cy="251.51" r="1.55" fill="#4ee24e"/>
<circle cx="161.77" cy="251.7" r="1.55" fill="#4ee24e"/>
<circle cx="161.81" cy="252.98" r="1.55" fill="#4ee24e"/>
<circle cx="162.8" cy="253.32" r="1.55" fill="#4ee24e"/>
<circle cx="162.79" cy="251.19" r="1.55" fill="#4ee24e"/>
<circle cx="163.23" cy="250.63" r="1.55" fill="#4ee24e"/>
<circle cx="163.81" cy="251.82" r="1.55" fill="#4ee24e"/>
<circle cx="164.69" cy="251.23" r="1.55" fill="#4ee24e"/>
<circle cx="165.28" cy="251.99" r="1.55" fill="#4ee24e"/>
<circle cx="165.52" cy="251.59" r="1.55" fill="#4ee24e"/>
<circle cx="165.93" cy="251.48" r="1.55" fill="#4ee24e"/>
<circle cx="166.79" cy="252.09" r="1.55" fill="#4ee24e"/>
<circle cx="37.29" cy="154.74" r="1.6" fill="#2020d0"/>
<circle cx="39.88" cy="179.07" r="1.6" fill="#2020d0"/>
<circle cx="42.45" cy="193.3" r="1.6" fill="#2020d0"/>
<circle cx="45.12" cy="206.55" r="1.6" fill="#2020d0"/>
<circle cx="48.19" cy="215.87" r="1.6" fill="#2020d0"/>
<circle cx="50.35" cy="220.21" r="1.6" fill="#2020d0"/>
<circle cx="53.09" cy="225.78" r="1.6" fill="#2020d0"/>
<circle cx="55.82" cy="232.48" r="1.6" fill="#2020d0"/>
<circle cx="58.21" cy="234.97" r="1.6" fill="#2020d0"/>
<circle cx="61.05" cy="237.66" r="1.6" fill="#2020d0"/>
<circle cx="63.48" cy="238.27" r="1.6" fill="#2020d0"/>
<circle cx="66.12" cy="238.91" r="1.6" fill="#2020d0"/>
<circle cx="68.9" cy="240.39" r="1.6" fill="#2020d0"/>
<circle cx="71.12" cy="242.38" r="1.6" fill="#2020d0"/>
<circle cx="74.11" cy="241.72" r="1.6" fill="#2020d0"/>
<circle cx="76.31" cy="242.75" r="1.6" fill="#2020d0"/>
<circle cx="78.9" cy="245.19" r="1.6" fill="#2020d0"/>
<circle cx="81.56" cy="244.21" r="1.6" fill="#2020d0"/>
<circle cx="84.59" cy="244.94" r="1.6" fill="#2020d0"/>
<circle cx="86.85" cy="245.47" r="1.6" fill="#2020d0"/>
<circle cx="89.21" cy="245.72" r="1.6" fill="#2020d0"/>
<circle cx="92.32" cy="245.53" r="1.6" fill="#2020d0"/>
<circle cx="94.81" cy="246.47" r="1.6" fill="#2020d0"/>
<circle cx="97.32" cy="244.41" r="1.6" fill="#2020d0"/>
<circle cx="99.92" cy="246.29" r="1.6" fill="#2020d0"/>
<circle cx="102.46" cy="246.07" r="1.6" fill="#2020d0"/>
<circle cx="104.99" cy="246.9" r="1.6" fill="#2020d0"/>
<circle cx="107.7" cy="247.12" r="1.6" fill="#2020d0"/>
<circle cx="110.22" cy="246.17" r="1.6" fill="#2020d0"/>
<circle cx="112.96" cy="246.99" r="1.6" fill="#2020d0"/>
<circle cx="115.72" cy="248.08" r="1.6" fill="#2020d0"/>
<circle cx="118.3" cy="246.58" r="1.6" fill="#2020d0"/>
<circle cx="120.56" cy="246.43" r="1.6" fill="#2020d0"/>
<circle cx="123.07" cy="248.42" r="1.6" fill="#2020d0"/>
<circle cx="125.8" cy="245.85" r="1.6" fill="#2020d0"/>
<circle cx="128.59" cy="246.83" r="1.6" fill="#2020d0"/>
<circle cx="131.07" cy="246.53" r="1.6" fill="#2020d0"/>
<circle cx="133.69" cy="248.39" r="1.6" fill="#2020d0"/>
<circle cx="136.59" cy="245.67" r="1.6" fill="#2020d0"/>
<circle cx="138.92" cy="246.64" r="1.6" fill="#2020d0"/>
<circle cx="141.24" cy="246.11" r="1.6" fill="#2020d0"/>
<circle cx="144.06" cy="247.2" r="1.6" fill="#2020d0"/>
<circle cx="146.44" cy="247.51" r="1.6" fill="#2020d0"/>
<circle cx="149.51" cy="246.07" r="1.6" fill="#2020d0"/>
<circle cx="151.82" cy="245.67" r="1.6" fill="#2020d0"/>
<circle cx="154.33" cy="248.07" r="1.6" fill="#2020d0"/>
<circle cx="157.06" cy="245.77" r="1.6" fill="#2020d0"/>
<circle cx="159.92" cy="246.59" r="1.6" fill="#2020d0"/>
<circle cx="162.18" cy="246.84" r="1.6" fill="#2020d0"/>
<circle cx="164.9" cy="246.44" r="1.6" fill="#2020d0"/>
<path d="M37.3,150C37.75,151.75 39.05,156.83 40,160.5C40.95,164.17 42,168.08 43,172C44,175.92 44.92,179.83 46,184C47.08,188.17 48.42,193.25 49.5,197C50.58,200.75 51.58,203.75 52.5,206.5C53.42,209.25 53.75,210.75 55,213.5C56.25,216.25 58.58,220.5 60,223C61.42,225.5 62.25,226.75 63.5,228.5C64.75,230.25 66.25,232 67.5,233.5C68.75,235 69.75,236.25 71,237.5C72.25,238.75 73.08,239.67 75,241C76.92,242.33 80,244.33 82.5,245.5C85,246.67 87.58,247.37 90,248C92.42,248.63 94.5,248.97 97,249.3C99.5,249.63 101.17,249.78 105,250C108.83,250.22 109.67,250.47 120,250.6C130.33,250.73 159.17,250.77 167,250.8" fill="none" stroke="#2ad42a" stroke-width="1.6" stroke-linejoin="round" stroke-linecap="round" />
<path d="M37.3,150C37.83,151.83 39.38,157 40.5,161C41.62,165 42.83,169.83 44,174C45.17,178.17 46.33,182.03 47.5,186C48.67,189.97 49.67,194.13 51,197.8C52.33,201.47 54,204.97 55.5,208C57,211.03 58.67,213.83 60,216C61.33,218.17 62.25,219.42 63.5,221C64.75,222.58 66.25,224.12 67.5,225.5C68.75,226.88 69.75,228.08 71,229.3C72.25,230.52 73.08,231.27 75,232.8C76.92,234.33 80,236.93 82.5,238.5C85,240.07 87.52,241.15 90,242.2C92.48,243.25 94.9,244.13 97.4,244.8C99.9,245.47 102.07,245.8 105,246.2C107.93,246.6 110.83,246.97 115,247.2C119.17,247.43 121.33,247.5 130,247.6C138.67,247.7 160.83,247.77 167,247.8" fill="none" stroke="#3a1010" stroke-width="1.2" stroke-linejoin="round" stroke-linecap="round" />
<path d="M37.3,151C37.45,152.5 37.88,156.83 38.2,160C38.52,163.17 38.85,166.92 39.2,170C39.55,173.08 39.87,175.58 40.3,178.5C40.73,181.42 41.3,184.67 41.8,187.5C42.3,190.33 42.68,192.67 43.3,195.5C43.92,198.33 44.72,201.67 45.5,204.5C46.28,207.33 47.08,209.83 48,212.5C48.92,215.17 49.92,217.95 51,220.5C52.08,223.05 53.25,225.63 54.5,227.8C55.75,229.97 57.03,231.8 58.5,233.5C59.97,235.2 61.72,236.78 63.3,238C64.88,239.22 66.55,240.07 68,240.8C69.45,241.53 70.33,241.88 72,242.4C73.67,242.92 75.5,243.42 78,243.9C80.5,244.38 83.77,244.92 87,245.3C90.23,245.68 91.9,245.95 97.4,246.2C102.9,246.45 108.4,246.67 120,246.8C131.6,246.93 159.17,246.97 167,247" fill="none" stroke="#1515c0" stroke-width="1.3" stroke-linejoin="round" stroke-linecap="round" />
</g>
<circle cx="107.7" cy="156.1" r="1.75" fill="#151515"/>
<text x="116.8" y="158.5" font-size="6.7" text-anchor="start" fill="#2a2a2a" >control</text>
<text x="141.3" y="158.5" font-size="6.7" text-anchor="start" fill="#2a2a2a" >4.14</text>
<text x="156.7" y="158.5" font-size="5.2" text-anchor="start" fill="#2a2a2a" >μs</text>
<circle cx="107.7" cy="165.3" r="1.75" fill="#d04010"/>
<text x="116.8" y="167.7" font-size="6.7" text-anchor="start" fill="#2a2a2a" >SIO-2</text>
<text x="142.6" y="167.7" font-size="6.7" text-anchor="start" fill="#2a2a2a" >3.89</text>
<text x="156.7" y="167.7" font-size="5.2" text-anchor="start" fill="#2a2a2a" >μs</text>
<circle cx="107.7" cy="174.5" r="1.75" fill="#2020d0"/>
<text x="116.8" y="176.9" font-size="6.7" text-anchor="start" fill="#2a2a2a" >SIO-5</text>
<text x="142.6" y="176.9" font-size="6.7" text-anchor="start" fill="#2a2a2a" >2.42</text>
<text x="156.7" y="176.9" font-size="5.2" text-anchor="start" fill="#2a2a2a" >μs</text>
<circle cx="107.7" cy="183.7" r="1.75" fill="#35e035"/>
<text x="116.8" y="186.1" font-size="6.7" text-anchor="start" fill="#2a2a2a" >SIO-8</text>
<text x="142.6" y="186.1" font-size="6.7" text-anchor="start" fill="#2a2a2a" >3.32</text>
<text x="156.7" y="186.1" font-size="5.2" text-anchor="start" fill="#2a2a2a" >μs</text>
<text x="176.4" y="154.7" font-size="10.4" text-anchor="start" fill="#2a2a2a" >(e)</text>
<rect x="211.6" y="150.7" width="127.8" height="103.9" fill="none" stroke="#3c3c3c" stroke-width="1.25"/>
<line x1="222.5" y1="254.6" x2="222.5" y2="251.8" stroke="#2a2a2a" stroke-width="0.9"/>
<line x1="335.6" y1="254.6" x2="335.6" y2="251.8" stroke="#2a2a2a" stroke-width="0.9"/>
<line x1="256.55" y1="254.6" x2="256.55" y2="253.1" stroke="#2a2a2a" stroke-width="0.9"/>
<line x1="276.46" y1="254.6" x2="276.46" y2="253.1" stroke="#2a2a2a" stroke-width="0.9"/>
<line x1="290.59" y1="254.6" x2="290.59" y2="253.1" stroke="#2a2a2a" stroke-width="0.9"/>
<line x1="301.55" y1="254.6" x2="301.55" y2="253.1" stroke="#2a2a2a" stroke-width="0.9"/>
<line x1="310.51" y1="254.6" x2="310.51" y2="253.1" stroke="#2a2a2a" stroke-width="0.9"/>
<line x1="318.08" y1="254.6" x2="318.08" y2="253.1" stroke="#2a2a2a" stroke-width="0.9"/>
<line x1="324.64" y1="254.6" x2="324.64" y2="253.1" stroke="#2a2a2a" stroke-width="0.9"/>
<line x1="330.42" y1="254.6" x2="330.42" y2="253.1" stroke="#2a2a2a" stroke-width="0.9"/>
<line x1="211.6" y1="254.6" x2="214.4" y2="254.6" stroke="#2a2a2a" stroke-width="0.9"/>
<line x1="211.6" y1="184.1" x2="214.4" y2="184.1" stroke="#2a2a2a" stroke-width="0.9"/>
<line x1="211.6" y1="233.38" x2="213.1" y2="233.38" stroke="#2a2a2a" stroke-width="0.9"/>
<line x1="211.6" y1="220.96" x2="213.1" y2="220.96" stroke="#2a2a2a" stroke-width="0.9"/>
<line x1="211.6" y1="212.15" x2="213.1" y2="212.15" stroke="#2a2a2a" stroke-width="0.9"/>
<line x1="211.6" y1="205.32" x2="213.1" y2="205.32" stroke="#2a2a2a" stroke-width="0.9"/>
<line x1="211.6" y1="199.74" x2="213.1" y2="199.74" stroke="#2a2a2a" stroke-width="0.9"/>
<line x1="211.6" y1="195.02" x2="213.1" y2="195.02" stroke="#2a2a2a" stroke-width="0.9"/>
<line x1="211.6" y1="190.93" x2="213.1" y2="190.93" stroke="#2a2a2a" stroke-width="0.9"/>
<line x1="211.6" y1="187.33" x2="213.1" y2="187.33" stroke="#2a2a2a" stroke-width="0.9"/>
<line x1="211.6" y1="162.88" x2="213.1" y2="162.88" stroke="#2a2a2a" stroke-width="0.9"/>
<line x1="211.6" y1="150.46" x2="213.1" y2="150.46" stroke="#2a2a2a" stroke-width="0.9"/>
<text x="222.5" y="262.1" font-size="6.4" text-anchor="middle" fill="#2a2a2a" >10</text>
<text x="335.6" y="262.1" font-size="6.4" text-anchor="middle" fill="#2a2a2a" >100</text>
<text x="207.4" y="186.4" font-size="6.4" text-anchor="middle" fill="#2a2a2a" >10</text>
<text x="207.5" y="256.9" font-size="6.4" text-anchor="middle" fill="#2a2a2a" >1</text>
<text x="276" y="271.4" font-size="8.7" text-anchor="middle" fill="#2a2a2a" >Light Intensity (mW/cm<tspan font-size="5" dy="-3">2</tspan><tspan dy="3">)</tspan></text>
<text x="0" y="0" font-size="8.7" text-anchor="middle" fill="#222" transform="translate(200.2,203) rotate(-90)"><tspan font-style="italic">J</tspan><tspan font-size="5.5" dy="1.5">sc</tspan><tspan dy="-1.5"> (mA/cm</tspan><tspan font-size="5" dy="-3">2</tspan><tspan dy="3">)</tspan></text>
<g clip-path="url(#ce)">
<path d="M222.5,225.1 L335.6,156.93" fill="none" stroke="#858d80" stroke-width="1.3" stroke-linejoin="round" stroke-linecap="round" />
<circle cx="222.5" cy="225.4" r="1.8" fill="#151515"/>
<circle cx="222.5" cy="226.2" r="1.8" fill="#d04010"/>
<circle cx="222.5" cy="224.8" r="1.8" fill="#2020d0"/>
<circle cx="222.5" cy="224.3" r="1.8" fill="#35e035"/>
<circle cx="256.55" cy="204.88" r="1.8" fill="#151515"/>
<circle cx="256.55" cy="205.83" r="1.8" fill="#d04010"/>
<circle cx="256.55" cy="204.11" r="1.8" fill="#2020d0"/>
<circle cx="256.55" cy="203.71" r="1.8" fill="#35e035"/>
<circle cx="276.46" cy="192.87" r="1.8" fill="#151515"/>
<circle cx="276.46" cy="193.91" r="1.8" fill="#d04010"/>
<circle cx="276.46" cy="192" r="1.8" fill="#2020d0"/>
<circle cx="276.46" cy="191.67" r="1.8" fill="#35e035"/>
<circle cx="290.59" cy="184.36" r="1.8" fill="#151515"/>
<circle cx="290.59" cy="185.45" r="1.8" fill="#d04010"/>
<circle cx="290.59" cy="183.42" r="1.8" fill="#2020d0"/>
<circle cx="290.59" cy="183.13" r="1.8" fill="#35e035"/>
<circle cx="301.55" cy="177.75" r="1.8" fill="#151515"/>
<circle cx="301.55" cy="178.89" r="1.8" fill="#d04010"/>
<circle cx="301.55" cy="176.95" r="1.8" fill="#35e035"/>
<circle cx="301.55" cy="175.66" r="1.8" fill="#2020d0"/>
<circle cx="310.51" cy="172.35" r="1.8" fill="#151515"/>
<circle cx="310.51" cy="173.53" r="1.8" fill="#d04010"/>
<circle cx="310.51" cy="171.31" r="1.8" fill="#2020d0"/>
<circle cx="310.51" cy="171.09" r="1.8" fill="#35e035"/>
<circle cx="318.08" cy="167.79" r="1.8" fill="#151515"/>
<circle cx="318.08" cy="169" r="1.8" fill="#d04010"/>
<circle cx="318.08" cy="166.99" r="1.8" fill="#35e035"/>
<circle cx="318.08" cy="165.51" r="1.8" fill="#2020d0"/>
<circle cx="324.64" cy="163.83" r="1.8" fill="#151515"/>
<circle cx="324.64" cy="165.08" r="1.8" fill="#d04010"/>
<circle cx="324.64" cy="162.72" r="1.8" fill="#2020d0"/>
<circle cx="324.64" cy="162.54" r="1.8" fill="#35e035"/>
<circle cx="330.42" cy="160.35" r="1.8" fill="#151515"/>
<circle cx="330.42" cy="161.62" r="1.8" fill="#d04010"/>
<circle cx="330.42" cy="159.55" r="1.8" fill="#35e035"/>
<circle cx="330.42" cy="157.94" r="1.8" fill="#2020d0"/>
<circle cx="335.6" cy="157.23" r="1.8" fill="#151515"/>
<circle cx="335.6" cy="158.52" r="1.8" fill="#d04010"/>
<circle cx="335.6" cy="156.43" r="1.8" fill="#35e035"/>
<circle cx="335.6" cy="154.76" r="1.8" fill="#2020d0"/>
</g>
<circle cx="276.1" cy="217.4" r="1.75" fill="#151515"/>
<text x="285.8" y="219.8" font-size="6.7" text-anchor="start" fill="#2a2a2a" >control</text>
<text x="307.5" y="219.8" font-size="6.7" text-anchor="start" fill="#2a2a2a" >α=</text>
<text x="336" y="219.8" font-size="6.7" text-anchor="end" fill="#2a2a2a" >0.967</text>
<circle cx="276.1" cy="226.65" r="1.75" fill="#d04010"/>
<text x="285.8" y="229.05" font-size="6.7" text-anchor="start" fill="#2a2a2a" >SIO-2</text>
<text x="309" y="229.05" font-size="6.7" text-anchor="start" fill="#2a2a2a" >α=</text>
<text x="336" y="229.05" font-size="6.7" text-anchor="end" fill="#2a2a2a" >0.968</text>
<circle cx="276.1" cy="235.9" r="1.75" fill="#2020d0"/>
<text x="285.8" y="238.3" font-size="6.7" text-anchor="start" fill="#2a2a2a" >SIO-5</text>
<text x="309" y="238.3" font-size="6.7" text-anchor="start" fill="#2a2a2a" >α=</text>
<text x="336" y="238.3" font-size="6.7" text-anchor="end" fill="#2a2a2a" >0.980</text>
<circle cx="276.1" cy="245.15" r="1.75" fill="#35e035"/>
<text x="285.8" y="247.55" font-size="6.7" text-anchor="start" fill="#2a2a2a" >SIO-8</text>
<text x="309" y="247.55" font-size="6.7" text-anchor="start" fill="#2a2a2a" >α=</text>
<text x="336" y="247.55" font-size="6.7" text-anchor="end" fill="#2a2a2a" >0.967</text>
<text x="347.8" y="155" font-size="10.4" text-anchor="start" fill="#2a2a2a" >(f)</text>
<rect x="389.3" y="150.6" width="126.4" height="102.3" fill="none" stroke="#3c3c3c" stroke-width="1.25"/>
<line x1="400.2" y1="252.9" x2="400.2" y2="250.1" stroke="#2a2a2a" stroke-width="0.9"/>
<line x1="510.6" y1="252.9" x2="510.6" y2="250.1" stroke="#2a2a2a" stroke-width="0.9"/>
<line x1="433.43" y1="252.9" x2="433.43" y2="251.4" stroke="#2a2a2a" stroke-width="0.9"/>
<line x1="452.87" y1="252.9" x2="452.87" y2="251.4" stroke="#2a2a2a" stroke-width="0.9"/>
<line x1="466.67" y1="252.9" x2="466.67" y2="251.4" stroke="#2a2a2a" stroke-width="0.9"/>
<line x1="477.37" y1="252.9" x2="477.37" y2="251.4" stroke="#2a2a2a" stroke-width="0.9"/>
<line x1="486.11" y1="252.9" x2="486.11" y2="251.4" stroke="#2a2a2a" stroke-width="0.9"/>
<line x1="493.5" y1="252.9" x2="493.5" y2="251.4" stroke="#2a2a2a" stroke-width="0.9"/>
<line x1="499.9" y1="252.9" x2="499.9" y2="251.4" stroke="#2a2a2a" stroke-width="0.9"/>
<line x1="505.55" y1="252.9" x2="505.55" y2="251.4" stroke="#2a2a2a" stroke-width="0.9"/>
<line x1="389.3" y1="252.6" x2="392.1" y2="252.6" stroke="#2a2a2a" stroke-width="0.9"/>
<line x1="389.3" y1="201.7" x2="392.1" y2="201.7" stroke="#2a2a2a" stroke-width="0.9"/>
<line x1="389.3" y1="150.8" x2="392.1" y2="150.8" stroke="#2a2a2a" stroke-width="0.9"/>
<line x1="389.3" y1="242.42" x2="390.8" y2="242.42" stroke="#2a2a2a" stroke-width="0.9"/>
<line x1="389.3" y1="232.24" x2="390.8" y2="232.24" stroke="#2a2a2a" stroke-width="0.9"/>
<line x1="389.3" y1="222.06" x2="390.8" y2="222.06" stroke="#2a2a2a" stroke-width="0.9"/>
<line x1="389.3" y1="211.88" x2="390.8" y2="211.88" stroke="#2a2a2a" stroke-width="0.9"/>
<line x1="389.3" y1="191.52" x2="390.8" y2="191.52" stroke="#2a2a2a" stroke-width="0.9"/>
<line x1="389.3" y1="181.34" x2="390.8" y2="181.34" stroke="#2a2a2a" stroke-width="0.9"/>
<line x1="389.3" y1="171.16" x2="390.8" y2="171.16" stroke="#2a2a2a" stroke-width="0.9"/>
<line x1="389.3" y1="160.98" x2="390.8" y2="160.98" stroke="#2a2a2a" stroke-width="0.9"/>
<text x="400.2" y="260" font-size="5.8" text-anchor="middle" fill="#2a2a2a" >10</text>
<text x="510.6" y="260" font-size="5.8" text-anchor="middle" fill="#2a2a2a" >100</text>
<text x="381.7" y="254.1" font-size="5.7" text-anchor="middle" fill="#2a2a2a" >1.00</text>
<text x="381.7" y="203.2" font-size="5.7" text-anchor="middle" fill="#2a2a2a" >1.05</text>
<text x="381.7" y="152.3" font-size="5.7" text-anchor="middle" fill="#2a2a2a" >1.10</text>
<text x="453" y="269.5" font-size="8.05" text-anchor="middle" fill="#2a2a2a" >Light Intensity (mW/cm<tspan font-size="4.7" dy="-3">2</tspan><tspan dy="3">)</tspan></text>
<text x="0" y="0" font-size="8.3" text-anchor="middle" fill="#222" transform="translate(373.2,203.3) rotate(-90)"><tspan font-style="italic">V</tspan><tspan font-size="5.2" dy="1.5">oc</tspan><tspan dy="-1.5"> (V)</tspan></text>
<g clip-path="url(#cf)">
<line x1="400.2" y1="202.6" x2="510.6" y2="175.2" stroke="#2020d0" stroke-width="1.2"/>
<circle cx="400.5" cy="202.7" r="1.35" fill="#2020d0"/>
<circle cx="434" cy="195" r="1.35" fill="#2020d0"/>
<circle cx="453" cy="191.7" r="1.35" fill="#2020d0"/>
<circle cx="467" cy="187.3" r="1.35" fill="#2020d0"/>
<circle cx="478" cy="184" r="1.35" fill="#2020d0"/>
<circle cx="487.8" cy="181.9" r="1.35" fill="#2020d0"/>
<circle cx="494.4" cy="179.7" r="1.35" fill="#2020d0"/>
<circle cx="500.9" cy="177.5" r="1.35" fill="#2020d0"/>
<circle cx="507.5" cy="175.3" r="1.35" fill="#2020d0"/>
<circle cx="512.3" cy="174.9" r="1.35" fill="#2020d0"/>
<line x1="400.2" y1="220.3" x2="510.6" y2="188.8" stroke="#35e035" stroke-width="1.2"/>
<circle cx="400.5" cy="220" r="1.35" fill="#35e035"/>
<circle cx="433.3" cy="211.9" r="1.35" fill="#35e035"/>
<circle cx="453.4" cy="205.9" r="1.35" fill="#35e035"/>
<circle cx="468.1" cy="201.4" r="1.35" fill="#35e035"/>
<circle cx="478" cy="199.9" r="1.35" fill="#35e035"/>
<circle cx="487.8" cy="196.4" r="1.35" fill="#35e035"/>
<circle cx="494.4" cy="193.7" r="1.35" fill="#35e035"/>
<circle cx="500.9" cy="192" r="1.35" fill="#35e035"/>
<circle cx="508.6" cy="190.5" r="1.35" fill="#35e035"/>
<circle cx="513" cy="188.3" r="1.35" fill="#35e035"/>
<line x1="400.2" y1="230.5" x2="510.6" y2="197.3" stroke="#151515" stroke-width="1.2"/>
<circle cx="400.5" cy="231.5" r="1.35" fill="#151515"/>
<circle cx="433.3" cy="223.2" r="1.35" fill="#151515"/>
<circle cx="453.4" cy="218.1" r="1.35" fill="#151515"/>
<circle cx="467.7" cy="212.3" r="1.35" fill="#151515"/>
<circle cx="478" cy="209" r="1.35" fill="#151515"/>
<circle cx="487.8" cy="204.7" r="1.35" fill="#151515"/>
<circle cx="494.4" cy="201.4" r="1.35" fill="#151515"/>
<circle cx="500.9" cy="199.2" r="1.35" fill="#151515"/>
<circle cx="507.5" cy="198.1" r="1.35" fill="#151515"/>
<circle cx="512.3" cy="196.4" r="1.35" fill="#151515"/>
<line x1="402.3" y1="251.5" x2="510.6" y2="211.2" stroke="#e51f1f" stroke-width="1.2"/>
<circle cx="400.5" cy="244.2" r="1.35" fill="#e51f1f"/>
<circle cx="433.3" cy="237.8" r="1.35" fill="#e51f1f"/>
<circle cx="453.4" cy="233.3" r="1.35" fill="#e51f1f"/>
<circle cx="467.7" cy="226.5" r="1.35" fill="#e51f1f"/>
<circle cx="478" cy="223.3" r="1.35" fill="#e51f1f"/>
<circle cx="487.8" cy="220" r="1.35" fill="#e51f1f"/>
<circle cx="494.4" cy="217.4" r="1.35" fill="#e51f1f"/>
<circle cx="500.9" cy="214.5" r="1.35" fill="#e51f1f"/>
<circle cx="507.5" cy="212.3" r="1.35" fill="#e51f1f"/>
<circle cx="513" cy="210.8" r="1.35" fill="#e51f1f"/>
</g>
<circle cx="396.4" cy="155.1" r="1.6" fill="#151515"/>
<text x="405.1" y="157.3" font-size="6.1" text-anchor="start" fill="#2a2a2a" >control</text>
<circle cx="396.4" cy="162.45" r="1.6" fill="#d04030"/>
<text x="405.1" y="164.65" font-size="6.1" text-anchor="start" fill="#2a2a2a" >SIO-2</text>
<circle cx="396.4" cy="169.8" r="1.6" fill="#2020d0"/>
<text x="405.1" y="172" font-size="6.1" text-anchor="start" fill="#2a2a2a" >SIO-5</text>
<circle cx="396.4" cy="177.15" r="1.6" fill="#35e035"/>
<text x="405.1" y="179.35" font-size="6.1" text-anchor="start" fill="#2a2a2a" >SIO-8</text>
<text x="472.5" y="174.8" font-size="4.6" text-anchor="start" fill="#333" style="stroke:none">1.12k<tspan font-size="3.4" dy="1">B</tspan><tspan dy="-1">T/q</tspan></text>
<text x="471.4" y="195.6" font-size="4.6" text-anchor="start" fill="#333" style="stroke:none">1.27k<tspan font-size="3.4" dy="1">B</tspan><tspan dy="-1">T/q</tspan></text>
<text x="406.9" y="235" font-size="4.6" text-anchor="start" fill="#333" style="stroke:none">1.42k<tspan font-size="3.4" dy="1">B</tspan><tspan dy="-1">T/q</tspan></text>
<text x="484.5" y="227.1" font-size="4.6" text-anchor="start" fill="#333" style="stroke:none">1.30k<tspan font-size="3.4" dy="1">B</tspan><tspan dy="-1">T/q</tspan></text>
</svg></body></html>
